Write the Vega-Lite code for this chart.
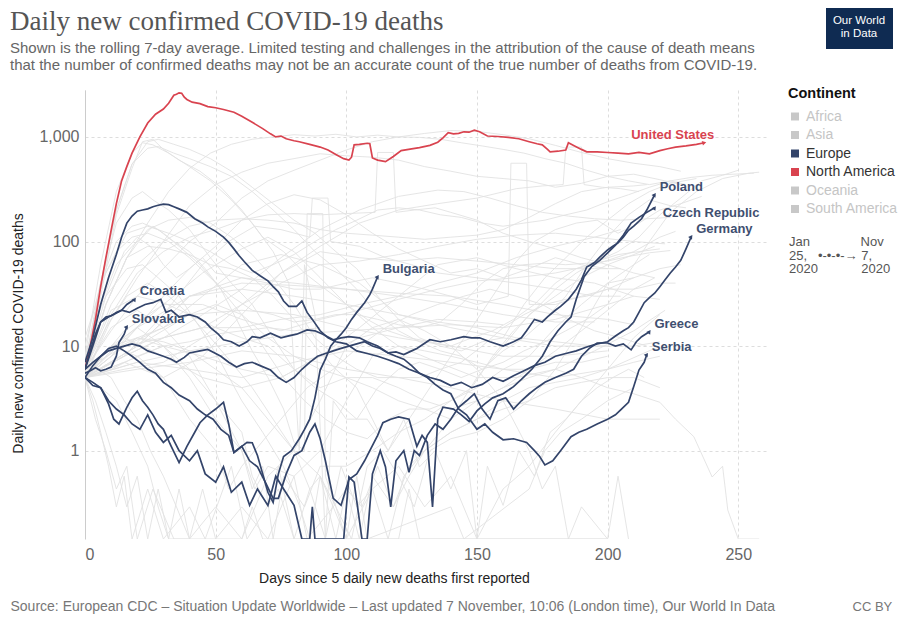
{
"$schema": "https://vega.github.io/schema/vega-lite/v6.json",
"width": 682, "height": 449,
"autosize": {"type": "none"},
"padding": {"left": 85, "top": 90, "right": 131, "bottom": 79},
"background": "white",
"title": {
  "text": "Daily new confirmed COVID-19 deaths",
  "subtitle": ["Shown is the rolling 7-day average. Limited testing and challenges in the attribution of the cause of death means", "that the number of confirmed deaths may not be an accurate count of the true number of deaths from COVID-19."],
  "anchor": "start", "frame": "bounds",
  "font": "Liberation Serif", "fontSize": 27, "fontWeight": "normal", "color": "#555",
  "subtitleFont": "Liberation Sans", "subtitleFontSize": 15, "subtitleColor": "#666", "subtitlePadding": 5, "subtitleLineHeight": 17,
  "offset": 13, "dy": 79
},
"config": {"view": {"stroke": null}, "font": "Liberation Sans"},
"datasets": {
"grey": [
{"country":"Brazil","day":0,"deaths":5},{"country":"Brazil","day":8,"deaths":25},{"country":"Brazil","day":16,"deaths":70},{"country":"Brazil","day":24,"deaths":150},{"country":"Brazil","day":32,"deaths":300},{"country":"Brazil","day":40,"deaths":500},{"country":"Brazil","day":48,"deaths":700},{"country":"Brazil","day":56,"deaths":850},{"country":"Brazil","day":64,"deaths":950},{"country":"Brazil","day":72,"deaths":1000},{"country":"Brazil","day":80,"deaths":1050},{"country":"Brazil","day":88,"deaths":1020},{"country":"Brazil","day":96,"deaths":1060},{"country":"Brazil","day":104,"deaths":1000},{"country":"Brazil","day":112,"deaths":1040},{"country":"Brazil","day":120,"deaths":1000},{"country":"Brazil","day":128,"deaths":990},{"country":"Brazil","day":136,"deaths":950},{"country":"Brazil","day":144,"deaths":880},{"country":"Brazil","day":152,"deaths":820},{"country":"Brazil","day":160,"deaths":760},{"country":"Brazil","day":168,"deaths":700},{"country":"Brazil","day":176,"deaths":620},{"country":"Brazil","day":184,"deaths":560},{"country":"Brazil","day":192,"deaths":480},{"country":"Brazil","day":200,"deaths":420},{"country":"Brazil","day":208,"deaths":380},{"country":"Brazil","day":216,"deaths":350},{"country":"Brazil","day":224,"deaths":380},{"country":"Brazil","day":230,"deaths":350},
{"country":"India","day":0,"deaths":6},{"country":"India","day":10,"deaths":14},{"country":"India","day":20,"deaths":30},{"country":"India","day":30,"deaths":55},{"country":"India","day":40,"deaths":100},{"country":"India","day":50,"deaths":150},{"country":"India","day":60,"deaths":260},{"country":"India","day":70,"deaths":380},{"country":"India","day":80,"deaths":480},{"country":"India","day":90,"deaths":600},{"country":"India","day":100,"deaths":750},{"country":"India","day":110,"deaths":900},{"country":"India","day":120,"deaths":1000},{"country":"India","day":130,"deaths":1080},{"country":"India","day":140,"deaths":1150},{"country":"India","day":150,"deaths":1130},{"country":"India","day":160,"deaths":1050},{"country":"India","day":170,"deaths":960},{"country":"India","day":180,"deaths":830},{"country":"India","day":190,"deaths":710},{"country":"India","day":200,"deaths":620},{"country":"India","day":210,"deaths":560},{"country":"India","day":220,"deaths":520},{"country":"India","day":228,"deaths":470},
{"country":"Mexico","day":0,"deaths":5},{"country":"Mexico","day":10,"deaths":18},{"country":"Mexico","day":20,"deaths":45},{"country":"Mexico","day":30,"deaths":100},{"country":"Mexico","day":40,"deaths":220},{"country":"Mexico","day":50,"deaths":350},{"country":"Mexico","day":60,"deaths":460},{"country":"Mexico","day":70,"deaths":560},{"country":"Mexico","day":80,"deaths":620},{"country":"Mexico","day":90,"deaths":690},{"country":"Mexico","day":100,"deaths":660},{"country":"Mexico","day":110,"deaths":640},{"country":"Mexico","day":120,"deaths":600},{"country":"Mexico","day":130,"deaths":520},{"country":"Mexico","day":140,"deaths":470},{"country":"Mexico","day":150,"deaths":420},{"country":"Mexico","day":160,"deaths":400},{"country":"Mexico","day":170,"deaths":380},{"country":"Mexico","day":180,"deaths":330},{"country":"Mexico","day":190,"deaths":360},{"country":"Mexico","day":200,"deaths":420},{"country":"Mexico","day":210,"deaths":440},{"country":"Mexico","day":220,"deaths":390},{"country":"Mexico","day":228,"deaths":350},
{"country":"United Kingdom","day":0,"deaths":7},{"country":"United Kingdom","day":6,"deaths":40},{"country":"United Kingdom","day":12,"deaths":200},{"country":"United Kingdom","day":18,"deaths":550},{"country":"United Kingdom","day":24,"deaths":900},{"country":"United Kingdom","day":28,"deaths":950},{"country":"United Kingdom","day":34,"deaths":850},{"country":"United Kingdom","day":40,"deaths":760},{"country":"United Kingdom","day":48,"deaths":620},{"country":"United Kingdom","day":56,"deaths":470},{"country":"United Kingdom","day":64,"deaths":330},{"country":"United Kingdom","day":72,"deaths":230},{"country":"United Kingdom","day":80,"deaths":160},{"country":"United Kingdom","day":88,"deaths":120},{"country":"United Kingdom","day":96,"deaths":80},{"country":"United Kingdom","day":104,"deaths":55},{"country":"United Kingdom","day":112,"deaths":30},{"country":"United Kingdom","day":120,"deaths":18},{"country":"United Kingdom","day":128,"deaths":12},{"country":"United Kingdom","day":136,"deaths":10},{"country":"United Kingdom","day":144,"deaths":9},{"country":"United Kingdom","day":152,"deaths":11},{"country":"United Kingdom","day":160,"deaths":12},{"country":"United Kingdom","day":168,"deaths":25},{"country":"United Kingdom","day":176,"deaths":45},{"country":"United Kingdom","day":184,"deaths":70},{"country":"United Kingdom","day":192,"deaths":110},{"country":"United Kingdom","day":200,"deaths":160},{"country":"United Kingdom","day":208,"deaths":230},{"country":"United Kingdom","day":216,"deaths":300},{"country":"United Kingdom","day":224,"deaths":360},{"country":"United Kingdom","day":234,"deaths":400},
{"country":"Italy","day":0,"deaths":6},{"country":"Italy","day":6,"deaths":40},{"country":"Italy","day":12,"deaths":200},{"country":"Italy","day":18,"deaths":550},{"country":"Italy","day":24,"deaths":780},{"country":"Italy","day":28,"deaths":810},{"country":"Italy","day":34,"deaths":700},{"country":"Italy","day":40,"deaths":620},{"country":"Italy","day":48,"deaths":520},{"country":"Italy","day":56,"deaths":420},{"country":"Italy","day":64,"deaths":300},{"country":"Italy","day":72,"deaths":200},{"country":"Italy","day":80,"deaths":130},{"country":"Italy","day":88,"deaths":80},{"country":"Italy","day":96,"deaths":55},{"country":"Italy","day":104,"deaths":35},{"country":"Italy","day":112,"deaths":20},{"country":"Italy","day":120,"deaths":14},{"country":"Italy","day":128,"deaths":11},{"country":"Italy","day":136,"deaths":9},{"country":"Italy","day":144,"deaths":8},{"country":"Italy","day":152,"deaths":6},{"country":"Italy","day":160,"deaths":7},{"country":"Italy","day":168,"deaths":9},{"country":"Italy","day":176,"deaths":11},{"country":"Italy","day":184,"deaths":14},{"country":"Italy","day":192,"deaths":18},{"country":"Italy","day":200,"deaths":25},{"country":"Italy","day":208,"deaths":50},{"country":"Italy","day":216,"deaths":100},{"country":"Italy","day":224,"deaths":190},{"country":"Italy","day":234,"deaths":300},{"country":"Italy","day":244,"deaths":400},{"country":"Italy","day":254,"deaths":450},{"country":"Italy","day":258,"deaths":460},
{"country":"Spain","day":0,"deaths":8},{"country":"Spain","day":6,"deaths":60},{"country":"Spain","day":12,"deaths":300},{"country":"Spain","day":18,"deaths":700},{"country":"Spain","day":22,"deaths":880},{"country":"Spain","day":26,"deaths":840},{"country":"Spain","day":32,"deaths":700},{"country":"Spain","day":40,"deaths":520},{"country":"Spain","day":48,"deaths":380},{"country":"Spain","day":56,"deaths":250},{"country":"Spain","day":64,"deaths":150},{"country":"Spain","day":72,"deaths":80},{"country":"Spain","day":78,"deaths":40},{"country":"Spain","day":82,"deaths":1},{"country":"Spain","day":84,"deaths":60},{"country":"Spain","day":88,"deaths":20},{"country":"Spain","day":92,"deaths":0.143},{"country":"Spain","day":95,"deaths":3},{"country":"Spain","day":100,"deaths":2},{"country":"Spain","day":108,"deaths":2},{"country":"Spain","day":116,"deaths":1},{"country":"Spain","day":124,"deaths":2},{"country":"Spain","day":132,"deaths":4},{"country":"Spain","day":140,"deaths":8},{"country":"Spain","day":148,"deaths":15},{"country":"Spain","day":156,"deaths":30},{"country":"Spain","day":164,"deaths":60},{"country":"Spain","day":172,"deaths":100},{"country":"Spain","day":180,"deaths":130},{"country":"Spain","day":188,"deaths":150},{"country":"Spain","day":196,"deaths":160},{"country":"Spain","day":204,"deaths":120},{"country":"Spain","day":212,"deaths":150},{"country":"Spain","day":220,"deaths":200},{"country":"Spain","day":228,"deaths":230},{"country":"Spain","day":236,"deaths":270},
{"country":"France","day":0,"deaths":6},{"country":"France","day":6,"deaths":30},{"country":"France","day":12,"deaths":180},{"country":"France","day":18,"deaths":500},{"country":"France","day":22,"deaths":900},{"country":"France","day":26,"deaths":950},{"country":"France","day":30,"deaths":760},{"country":"France","day":36,"deaths":600},{"country":"France","day":44,"deaths":470},{"country":"France","day":52,"deaths":330},{"country":"France","day":60,"deaths":200},{"country":"France","day":68,"deaths":110},{"country":"France","day":76,"deaths":80},{"country":"France","day":84,"deaths":50},{"country":"France","day":92,"deaths":35},{"country":"France","day":100,"deaths":25},{"country":"France","day":108,"deaths":18},{"country":"France","day":116,"deaths":14},{"country":"France","day":124,"deaths":12},{"country":"France","day":132,"deaths":11},{"country":"France","day":140,"deaths":10},{"country":"France","day":148,"deaths":12},{"country":"France","day":156,"deaths":14},{"country":"France","day":164,"deaths":18},{"country":"France","day":172,"deaths":25},{"country":"France","day":180,"deaths":40},{"country":"France","day":188,"deaths":55},{"country":"France","day":196,"deaths":65},{"country":"France","day":204,"deaths":80},{"country":"France","day":212,"deaths":110},{"country":"France","day":220,"deaths":180},{"country":"France","day":228,"deaths":260},{"country":"France","day":236,"deaths":380},{"country":"France","day":244,"deaths":430},{"country":"France","day":250,"deaths":480},
{"country":"Iran","day":0,"deaths":12},{"country":"Iran","day":8,"deaths":50},{"country":"Iran","day":16,"deaths":120},{"country":"Iran","day":24,"deaths":140},{"country":"Iran","day":32,"deaths":120},{"country":"Iran","day":40,"deaths":100},{"country":"Iran","day":48,"deaths":80},{"country":"Iran","day":56,"deaths":60},{"country":"Iran","day":64,"deaths":50},{"country":"Iran","day":72,"deaths":60},{"country":"Iran","day":80,"deaths":75},{"country":"Iran","day":88,"deaths":100},{"country":"Iran","day":96,"deaths":130},{"country":"Iran","day":104,"deaths":160},{"country":"Iran","day":112,"deaths":200},{"country":"Iran","day":120,"deaths":210},{"country":"Iran","day":128,"deaths":200},{"country":"Iran","day":136,"deaths":180},{"country":"Iran","day":144,"deaths":170},{"country":"Iran","day":152,"deaths":150},{"country":"Iran","day":160,"deaths":140},{"country":"Iran","day":168,"deaths":150},{"country":"Iran","day":176,"deaths":160},{"country":"Iran","day":184,"deaths":180},{"country":"Iran","day":192,"deaths":200},{"country":"Iran","day":200,"deaths":240},{"country":"Iran","day":208,"deaths":280},{"country":"Iran","day":216,"deaths":330},{"country":"Iran","day":224,"deaths":380},{"country":"Iran","day":232,"deaths":410},{"country":"Iran","day":240,"deaths":430},{"country":"Iran","day":248,"deaths":440},{"country":"Iran","day":256,"deaths":450},
{"country":"Peru","day":0,"deaths":5},{"country":"Peru","day":10,"deaths":20},{"country":"Peru","day":20,"deaths":50},{"country":"Peru","day":30,"deaths":80},{"country":"Peru","day":40,"deaths":110},{"country":"Peru","day":50,"deaths":130},{"country":"Peru","day":60,"deaths":160},{"country":"Peru","day":70,"deaths":180},{"country":"Peru","day":80,"deaths":185},{"country":"Peru","day":90,"deaths":180},{"country":"Peru","day":100,"deaths":185},{"country":"Peru","day":111,"deaths":190},{"country":"Peru","day":112,"deaths":710},{"country":"Peru","day":118,"deaths":710},{"country":"Peru","day":119,"deaths":190},{"country":"Peru","day":126,"deaths":200},{"country":"Peru","day":134,"deaths":210},{"country":"Peru","day":140,"deaths":190},{"country":"Peru","day":150,"deaths":160},{"country":"Peru","day":160,"deaths":120},{"country":"Peru","day":170,"deaths":100},{"country":"Peru","day":180,"deaths":85},{"country":"Peru","day":190,"deaths":70},{"country":"Peru","day":200,"deaths":60},{"country":"Peru","day":210,"deaths":50},{"country":"Peru","day":218,"deaths":45},
{"country":"Colombia","day":0,"deaths":5},{"country":"Colombia","day":15,"deaths":8},{"country":"Colombia","day":30,"deaths":12},{"country":"Colombia","day":45,"deaths":20},{"country":"Colombia","day":60,"deaths":35},{"country":"Colombia","day":75,"deaths":70},{"country":"Colombia","day":90,"deaths":130},{"country":"Colombia","day":105,"deaths":200},{"country":"Colombia","day":120,"deaths":270},{"country":"Colombia","day":135,"deaths":310},{"country":"Colombia","day":145,"deaths":300},{"country":"Colombia","day":155,"deaths":260},{"country":"Colombia","day":165,"deaths":220},{"country":"Colombia","day":175,"deaths":190},{"country":"Colombia","day":185,"deaths":175},{"country":"Colombia","day":195,"deaths":165},{"country":"Colombia","day":205,"deaths":160},{"country":"Colombia","day":215,"deaths":165},{"country":"Colombia","day":224,"deaths":170},
{"country":"Russia","day":0,"deaths":6},{"country":"Russia","day":10,"deaths":25},{"country":"Russia","day":20,"deaths":60},{"country":"Russia","day":30,"deaths":100},{"country":"Russia","day":40,"deaths":140},{"country":"Russia","day":50,"deaths":160},{"country":"Russia","day":60,"deaths":165},{"country":"Russia","day":70,"deaths":160},{"country":"Russia","day":80,"deaths":150},{"country":"Russia","day":90,"deaths":130},{"country":"Russia","day":100,"deaths":120},{"country":"Russia","day":110,"deaths":115},{"country":"Russia","day":120,"deaths":110},{"country":"Russia","day":130,"deaths":105},{"country":"Russia","day":140,"deaths":110},{"country":"Russia","day":150,"deaths":115},{"country":"Russia","day":160,"deaths":130},{"country":"Russia","day":170,"deaths":170},{"country":"Russia","day":180,"deaths":230},{"country":"Russia","day":190,"deaths":300},{"country":"Russia","day":200,"deaths":330},{"country":"Russia","day":210,"deaths":340},{"country":"Russia","day":215,"deaths":350},
{"country":"Argentina","day":0,"deaths":5},{"country":"Argentina","day":15,"deaths":6},{"country":"Argentina","day":30,"deaths":7},{"country":"Argentina","day":45,"deaths":12},{"country":"Argentina","day":60,"deaths":25},{"country":"Argentina","day":75,"deaths":50},{"country":"Argentina","day":90,"deaths":90},{"country":"Argentina","day":105,"deaths":150},{"country":"Argentina","day":120,"deaths":200},{"country":"Argentina","day":135,"deaths":230},{"country":"Argentina","day":150,"deaths":260},{"country":"Argentina","day":165,"deaths":320},{"country":"Argentina","day":175,"deaths":340},{"country":"Argentina","day":183,"deaths":350},{"country":"Argentina","day":184,"deaths":800},{"country":"Argentina","day":190,"deaths":800},{"country":"Argentina","day":191,"deaths":350},{"country":"Argentina","day":198,"deaths":330},{"country":"Argentina","day":205,"deaths":320},{"country":"Argentina","day":212,"deaths":300},
{"country":"South Africa","day":0,"deaths":5},{"country":"South Africa","day":10,"deaths":8},{"country":"South Africa","day":20,"deaths":15},{"country":"South Africa","day":30,"deaths":30},{"country":"South Africa","day":40,"deaths":55},{"country":"South Africa","day":50,"deaths":90},{"country":"South Africa","day":60,"deaths":160},{"country":"South Africa","day":70,"deaths":230},{"country":"South Africa","day":80,"deaths":280},{"country":"South Africa","day":90,"deaths":250},{"country":"South Africa","day":100,"deaths":180},{"country":"South Africa","day":110,"deaths":120},{"country":"South Africa","day":120,"deaths":85},{"country":"South Africa","day":130,"deaths":65},{"country":"South Africa","day":140,"deaths":50},{"country":"South Africa","day":150,"deaths":55},{"country":"South Africa","day":160,"deaths":45},{"country":"South Africa","day":170,"deaths":55},{"country":"South Africa","day":180,"deaths":70},{"country":"South Africa","day":190,"deaths":60},{"country":"South Africa","day":200,"deaths":55},
{"country":"Indonesia","day":0,"deaths":6},{"country":"Indonesia","day":15,"deaths":10},{"country":"Indonesia","day":30,"deaths":12},{"country":"Indonesia","day":45,"deaths":15},{"country":"Indonesia","day":60,"deaths":25},{"country":"Indonesia","day":75,"deaths":40},{"country":"Indonesia","day":90,"deaths":60},{"country":"Indonesia","day":105,"deaths":65},{"country":"Indonesia","day":120,"deaths":75},{"country":"Indonesia","day":135,"deaths":90},{"country":"Indonesia","day":150,"deaths":105},{"country":"Indonesia","day":165,"deaths":115},{"country":"Indonesia","day":180,"deaths":120},{"country":"Indonesia","day":195,"deaths":110},{"country":"Indonesia","day":210,"deaths":100},{"country":"Indonesia","day":222,"deaths":95},
{"country":"Belgium","day":0,"deaths":6},{"country":"Belgium","day":6,"deaths":40},{"country":"Belgium","day":12,"deaths":150},{"country":"Belgium","day":18,"deaths":260},{"country":"Belgium","day":22,"deaths":300},{"country":"Belgium","day":26,"deaths":250},{"country":"Belgium","day":32,"deaths":200},{"country":"Belgium","day":40,"deaths":130},{"country":"Belgium","day":48,"deaths":70},{"country":"Belgium","day":56,"deaths":40},{"country":"Belgium","day":64,"deaths":25},{"country":"Belgium","day":72,"deaths":12},{"country":"Belgium","day":80,"deaths":6},{"country":"Belgium","day":88,"deaths":4},{"country":"Belgium","day":96,"deaths":3},{"country":"Belgium","day":104,"deaths":2},{"country":"Belgium","day":112,"deaths":4},{"country":"Belgium","day":120,"deaths":6},{"country":"Belgium","day":128,"deaths":7},{"country":"Belgium","day":136,"deaths":6},{"country":"Belgium","day":144,"deaths":5},{"country":"Belgium","day":152,"deaths":6},{"country":"Belgium","day":160,"deaths":9},{"country":"Belgium","day":168,"deaths":12},{"country":"Belgium","day":176,"deaths":18},{"country":"Belgium","day":184,"deaths":30},{"country":"Belgium","day":192,"deaths":60},{"country":"Belgium","day":200,"deaths":110},{"country":"Belgium","day":208,"deaths":180},{"country":"Belgium","day":216,"deaths":250},{"country":"Belgium","day":224,"deaths":220},{"country":"Belgium","day":230,"deaths":210},
{"country":"Netherlands","day":0,"deaths":6},{"country":"Netherlands","day":6,"deaths":40},{"country":"Netherlands","day":12,"deaths":100},{"country":"Netherlands","day":18,"deaths":140},{"country":"Netherlands","day":22,"deaths":150},{"country":"Netherlands","day":28,"deaths":130},{"country":"Netherlands","day":36,"deaths":90},{"country":"Netherlands","day":44,"deaths":60},{"country":"Netherlands","day":52,"deaths":35},{"country":"Netherlands","day":60,"deaths":20},{"country":"Netherlands","day":68,"deaths":10},{"country":"Netherlands","day":76,"deaths":5},{"country":"Netherlands","day":84,"deaths":3},{"country":"Netherlands","day":92,"deaths":2},{"country":"Netherlands","day":100,"deaths":1.5},{"country":"Netherlands","day":108,"deaths":1.3},{"country":"Netherlands","day":116,"deaths":2},{"country":"Netherlands","day":124,"deaths":2.5},{"country":"Netherlands","day":132,"deaths":2.5},{"country":"Netherlands","day":140,"deaths":3},{"country":"Netherlands","day":148,"deaths":4},{"country":"Netherlands","day":156,"deaths":8},{"country":"Netherlands","day":164,"deaths":14},{"country":"Netherlands","day":172,"deaths":22},{"country":"Netherlands","day":180,"deaths":35},{"country":"Netherlands","day":188,"deaths":50},{"country":"Netherlands","day":196,"deaths":65},{"country":"Netherlands","day":204,"deaths":75},{"country":"Netherlands","day":212,"deaths":80},{"country":"Netherlands","day":220,"deaths":85},
{"country":"Turkey","day":0,"deaths":10},{"country":"Turkey","day":6,"deaths":40},{"country":"Turkey","day":12,"deaths":80},{"country":"Turkey","day":18,"deaths":110},{"country":"Turkey","day":24,"deaths":120},{"country":"Turkey","day":32,"deaths":100},{"country":"Turkey","day":40,"deaths":70},{"country":"Turkey","day":48,"deaths":45},{"country":"Turkey","day":56,"deaths":30},{"country":"Turkey","day":64,"deaths":22},{"country":"Turkey","day":72,"deaths":20},{"country":"Turkey","day":80,"deaths":17},{"country":"Turkey","day":88,"deaths":18},{"country":"Turkey","day":96,"deaths":20},{"country":"Turkey","day":104,"deaths":20},{"country":"Turkey","day":112,"deaths":18},{"country":"Turkey","day":120,"deaths":16},{"country":"Turkey","day":128,"deaths":15},{"country":"Turkey","day":136,"deaths":17},{"country":"Turkey","day":144,"deaths":25},{"country":"Turkey","day":152,"deaths":40},{"country":"Turkey","day":160,"deaths":55},{"country":"Turkey","day":168,"deaths":60},{"country":"Turkey","day":176,"deaths":62},{"country":"Turkey","day":184,"deaths":60},{"country":"Turkey","day":192,"deaths":62},{"country":"Turkey","day":200,"deaths":65},{"country":"Turkey","day":208,"deaths":72},{"country":"Turkey","day":216,"deaths":78},{"country":"Turkey","day":224,"deaths":82},
{"country":"Canada","day":0,"deaths":6},{"country":"Canada","day":8,"deaths":25},{"country":"Canada","day":16,"deaths":70},{"country":"Canada","day":24,"deaths":130},{"country":"Canada","day":32,"deaths":160},{"country":"Canada","day":40,"deaths":170},{"country":"Canada","day":48,"deaths":150},{"country":"Canada","day":56,"deaths":110},{"country":"Canada","day":64,"deaths":75},{"country":"Canada","day":72,"deaths":45},{"country":"Canada","day":80,"deaths":25},{"country":"Canada","day":88,"deaths":12},{"country":"Canada","day":96,"deaths":8},{"country":"Canada","day":104,"deaths":6},{"country":"Canada","day":112,"deaths":5},{"country":"Canada","day":120,"deaths":5},{"country":"Canada","day":128,"deaths":5},{"country":"Canada","day":136,"deaths":6},{"country":"Canada","day":144,"deaths":7},{"country":"Canada","day":152,"deaths":10},{"country":"Canada","day":160,"deaths":15},{"country":"Canada","day":168,"deaths":20},{"country":"Canada","day":176,"deaths":25},{"country":"Canada","day":184,"deaths":28},{"country":"Canada","day":192,"deaths":30},{"country":"Canada","day":200,"deaths":35},{"country":"Canada","day":210,"deaths":45},{"country":"Canada","day":220,"deaths":55},{"country":"Canada","day":228,"deaths":60},
{"country":"Sweden","day":0,"deaths":6},{"country":"Sweden","day":8,"deaths":25},{"country":"Sweden","day":16,"deaths":70},{"country":"Sweden","day":24,"deaths":90},{"country":"Sweden","day":32,"deaths":85},{"country":"Sweden","day":40,"deaths":75},{"country":"Sweden","day":48,"deaths":60},{"country":"Sweden","day":56,"deaths":55},{"country":"Sweden","day":64,"deaths":45},{"country":"Sweden","day":72,"deaths":30},{"country":"Sweden","day":80,"deaths":18},{"country":"Sweden","day":88,"deaths":10},{"country":"Sweden","day":96,"deaths":6},{"country":"Sweden","day":104,"deaths":4},{"country":"Sweden","day":110,"deaths":2},{"country":"Sweden","day":116,"deaths":1},{"country":"Sweden","day":122,"deaths":2},{"country":"Sweden","day":128,"deaths":0.7},{"country":"Sweden","day":134,"deaths":1},{"country":"Sweden","day":140,"deaths":0.43},{"country":"Sweden","day":146,"deaths":1},{"country":"Sweden","day":150,"deaths":0.143},{"country":"Sweden","day":154,"deaths":0.71},{"country":"Sweden","day":160,"deaths":0.3},{"country":"Sweden","day":166,"deaths":1},{"country":"Sweden","day":172,"deaths":0.57},{"country":"Sweden","day":178,"deaths":1.5},{"country":"Sweden","day":184,"deaths":2},{"country":"Sweden","day":190,"deaths":3},{"country":"Sweden","day":196,"deaths":4},{"country":"Sweden","day":202,"deaths":5},{"country":"Sweden","day":208,"deaths":6},{"country":"Sweden","day":214,"deaths":5},
{"country":"Philippines","day":0,"deaths":6},{"country":"Philippines","day":15,"deaths":12},{"country":"Philippines","day":30,"deaths":8},{"country":"Philippines","day":45,"deaths":5},{"country":"Philippines","day":60,"deaths":4},{"country":"Philippines","day":75,"deaths":5},{"country":"Philippines","day":90,"deaths":8},{"country":"Philippines","day":105,"deaths":15},{"country":"Philippines","day":120,"deaths":30},{"country":"Philippines","day":135,"deaths":60},{"country":"Philippines","day":150,"deaths":70},{"country":"Philippines","day":165,"deaths":55},{"country":"Philippines","day":180,"deaths":45},{"country":"Philippines","day":195,"deaths":40},{"country":"Philippines","day":210,"deaths":30},{"country":"Philippines","day":220,"deaths":28},
{"country":"Pakistan","day":0,"deaths":5},{"country":"Pakistan","day":15,"deaths":12},{"country":"Pakistan","day":30,"deaths":25},{"country":"Pakistan","day":45,"deaths":50},{"country":"Pakistan","day":60,"deaths":85},{"country":"Pakistan","day":70,"deaths":110},{"country":"Pakistan","day":80,"deaths":80},{"country":"Pakistan","day":90,"deaths":45},{"country":"Pakistan","day":100,"deaths":25},{"country":"Pakistan","day":110,"deaths":15},{"country":"Pakistan","day":120,"deaths":10},{"country":"Pakistan","day":135,"deaths":7},{"country":"Pakistan","day":150,"deaths":5},{"country":"Pakistan","day":165,"deaths":5},{"country":"Pakistan","day":180,"deaths":6},{"country":"Pakistan","day":195,"deaths":9},{"country":"Pakistan","day":210,"deaths":14},{"country":"Pakistan","day":222,"deaths":22},
{"country":"Egypt","day":0,"deaths":5},{"country":"Egypt","day":15,"deaths":10},{"country":"Egypt","day":30,"deaths":15},{"country":"Egypt","day":45,"deaths":30},{"country":"Egypt","day":60,"deaths":60},{"country":"Egypt","day":75,"deaths":75},{"country":"Egypt","day":90,"deaths":60},{"country":"Egypt","day":105,"deaths":40},{"country":"Egypt","day":120,"deaths":20},{"country":"Egypt","day":135,"deaths":17},{"country":"Egypt","day":150,"deaths":15},{"country":"Egypt","day":165,"deaths":12},{"country":"Egypt","day":180,"deaths":11},{"country":"Egypt","day":195,"deaths":10},{"country":"Egypt","day":210,"deaths":10},{"country":"Egypt","day":220,"deaths":11},
{"country":"Ireland","day":0,"deaths":6},{"country":"Ireland","day":8,"deaths":15},{"country":"Ireland","day":16,"deaths":30},{"country":"Ireland","day":24,"deaths":40},{"country":"Ireland","day":32,"deaths":30},{"country":"Ireland","day":40,"deaths":20},{"country":"Ireland","day":48,"deaths":12},{"country":"Ireland","day":56,"deaths":7},{"country":"Ireland","day":64,"deaths":4},{"country":"Ireland","day":72,"deaths":2},{"country":"Ireland","day":80,"deaths":1},{"country":"Ireland","day":86,"deaths":0.43},{"country":"Ireland","day":90,"deaths":0.57},{"country":"Ireland","day":96,"deaths":0.143},{"country":"Ireland","day":100,"deaths":0.43},{"country":"Ireland","day":106,"deaths":0.29},{"country":"Ireland","day":112,"deaths":0.71},{"country":"Ireland","day":118,"deaths":0.29},{"country":"Ireland","day":124,"deaths":0.57},{"country":"Ireland","day":130,"deaths":1},{"country":"Ireland","day":140,"deaths":1.5},{"country":"Ireland","day":150,"deaths":2},{"country":"Ireland","day":160,"deaths":2.5},{"country":"Ireland","day":170,"deaths":3},{"country":"Ireland","day":180,"deaths":4},{"country":"Ireland","day":190,"deaths":4.5},{"country":"Ireland","day":200,"deaths":5},{"country":"Ireland","day":210,"deaths":5},{"country":"Ireland","day":220,"deaths":4},
{"country":"Switzerland","day":0,"deaths":6},{"country":"Switzerland","day":8,"deaths":30},{"country":"Switzerland","day":16,"deaths":55},{"country":"Switzerland","day":22,"deaths":60},{"country":"Switzerland","day":28,"deaths":45},{"country":"Switzerland","day":36,"deaths":30},{"country":"Switzerland","day":44,"deaths":15},{"country":"Switzerland","day":52,"deaths":7},{"country":"Switzerland","day":60,"deaths":3},{"country":"Switzerland","day":68,"deaths":1.5},{"country":"Switzerland","day":76,"deaths":0.7},{"country":"Switzerland","day":82,"deaths":0.3},{"country":"Switzerland","day":86,"deaths":0.143},{"country":"Switzerland","day":90,"deaths":0.57},{"country":"Switzerland","day":96,"deaths":0.29},{"country":"Switzerland","day":102,"deaths":0.143},{"country":"Switzerland","day":108,"deaths":0.71},{"country":"Switzerland","day":114,"deaths":1},{"country":"Switzerland","day":120,"deaths":0.57},{"country":"Switzerland","day":126,"deaths":0.29},{"country":"Switzerland","day":132,"deaths":1},{"country":"Switzerland","day":140,"deaths":1.3},{"country":"Switzerland","day":150,"deaths":1.5},{"country":"Switzerland","day":160,"deaths":2},{"country":"Switzerland","day":170,"deaths":3},{"country":"Switzerland","day":180,"deaths":6},{"country":"Switzerland","day":190,"deaths":15},{"country":"Switzerland","day":200,"deaths":40},{"country":"Switzerland","day":210,"deaths":60},{"country":"Switzerland","day":216,"deaths":75},
{"country":"Portugal","day":0,"deaths":6},{"country":"Portugal","day":10,"deaths":22},{"country":"Portugal","day":20,"deaths":30},{"country":"Portugal","day":30,"deaths":26},{"country":"Portugal","day":40,"deaths":20},{"country":"Portugal","day":50,"deaths":15},{"country":"Portugal","day":60,"deaths":12},{"country":"Portugal","day":70,"deaths":10},{"country":"Portugal","day":80,"deaths":6},{"country":"Portugal","day":90,"deaths":4},{"country":"Portugal","day":100,"deaths":5},{"country":"Portugal","day":110,"deaths":5},{"country":"Portugal","day":120,"deaths":4},{"country":"Portugal","day":130,"deaths":3},{"country":"Portugal","day":140,"deaths":2.5},{"country":"Portugal","day":150,"deaths":3},{"country":"Portugal","day":160,"deaths":4},{"country":"Portugal","day":170,"deaths":6},{"country":"Portugal","day":180,"deaths":9},{"country":"Portugal","day":190,"deaths":14},{"country":"Portugal","day":200,"deaths":22},{"country":"Portugal","day":210,"deaths":35},{"country":"Portugal","day":218,"deaths":45},
{"country":"Romania","day":0,"deaths":5},{"country":"Romania","day":15,"deaths":14},{"country":"Romania","day":30,"deaths":25},{"country":"Romania","day":45,"deaths":25},{"country":"Romania","day":60,"deaths":18},{"country":"Romania","day":75,"deaths":14},{"country":"Romania","day":90,"deaths":18},{"country":"Romania","day":105,"deaths":22},{"country":"Romania","day":120,"deaths":28},{"country":"Romania","day":135,"deaths":35},{"country":"Romania","day":150,"deaths":42},{"country":"Romania","day":165,"deaths":45},{"country":"Romania","day":180,"deaths":50},{"country":"Romania","day":195,"deaths":60},{"country":"Romania","day":210,"deaths":80},{"country":"Romania","day":220,"deaths":110},{"country":"Romania","day":226,"deaths":125},
{"country":"Hungary","day":0,"deaths":5},{"country":"Hungary","day":10,"deaths":9},{"country":"Hungary","day":20,"deaths":12},{"country":"Hungary","day":30,"deaths":11},{"country":"Hungary","day":40,"deaths":9},{"country":"Hungary","day":50,"deaths":6},{"country":"Hungary","day":60,"deaths":4},{"country":"Hungary","day":70,"deaths":2},{"country":"Hungary","day":80,"deaths":1},{"country":"Hungary","day":90,"deaths":0.57},{"country":"Hungary","day":95,"deaths":0.29},{"country":"Hungary","day":100,"deaths":0.43},{"country":"Hungary","day":105,"deaths":0.143},{"country":"Hungary","day":110,"deaths":0.57},{"country":"Hungary","day":118,"deaths":0.29},{"country":"Hungary","day":124,"deaths":0.71},{"country":"Hungary","day":130,"deaths":1},{"country":"Hungary","day":140,"deaths":2},{"country":"Hungary","day":150,"deaths":5},{"country":"Hungary","day":160,"deaths":10},{"country":"Hungary","day":170,"deaths":20},{"country":"Hungary","day":180,"deaths":30},{"country":"Hungary","day":190,"deaths":45},{"country":"Hungary","day":200,"deaths":60},{"country":"Hungary","day":210,"deaths":75},{"country":"Hungary","day":218,"deaths":90},
{"country":"Ukraine","day":0,"deaths":5},{"country":"Ukraine","day":15,"deaths":8},{"country":"Ukraine","day":30,"deaths":12},{"country":"Ukraine","day":45,"deaths":15},{"country":"Ukraine","day":60,"deaths":15},{"country":"Ukraine","day":75,"deaths":18},{"country":"Ukraine","day":90,"deaths":20},{"country":"Ukraine","day":105,"deaths":25},{"country":"Ukraine","day":120,"deaths":30},{"country":"Ukraine","day":135,"deaths":40},{"country":"Ukraine","day":150,"deaths":50},{"country":"Ukraine","day":165,"deaths":70},{"country":"Ukraine","day":180,"deaths":90},{"country":"Ukraine","day":195,"deaths":110},{"country":"Ukraine","day":205,"deaths":130},
{"country":"Iraq","day":0,"deaths":5},{"country":"Iraq","day":15,"deaths":7},{"country":"Iraq","day":30,"deaths":5},{"country":"Iraq","day":45,"deaths":8},{"country":"Iraq","day":60,"deaths":20},{"country":"Iraq","day":75,"deaths":50},{"country":"Iraq","day":90,"deaths":80},{"country":"Iraq","day":105,"deaths":70},{"country":"Iraq","day":120,"deaths":65},{"country":"Iraq","day":135,"deaths":70},{"country":"Iraq","day":150,"deaths":65},{"country":"Iraq","day":165,"deaths":60},{"country":"Iraq","day":180,"deaths":55},{"country":"Iraq","day":195,"deaths":55},{"country":"Iraq","day":205,"deaths":55},
{"country":"Chile","day":0,"deaths":5},{"country":"Chile","day":15,"deaths":8},{"country":"Chile","day":30,"deaths":20},{"country":"Chile","day":45,"deaths":60},{"country":"Chile","day":55,"deaths":100},{"country":"Chile","day":65,"deaths":140},{"country":"Chile","day":75,"deaths":130},{"country":"Chile","day":86,"deaths":110},{"country":"Chile","day":87,"deaths":260},{"country":"Chile","day":93,"deaths":260},{"country":"Chile","day":94,"deaths":100},{"country":"Chile","day":105,"deaths":90},{"country":"Chile","day":115,"deaths":70},{"country":"Chile","day":125,"deaths":60},{"country":"Chile","day":135,"deaths":50},{"country":"Chile","day":150,"deaths":45},{"country":"Chile","day":165,"deaths":40},{"country":"Chile","day":180,"deaths":35},{"country":"Chile","day":195,"deaths":30},{"country":"Chile","day":205,"deaths":30},
{"country":"Ecuador","day":0,"deaths":8},{"country":"Ecuador","day":5,"deaths":20},{"country":"Ecuador","day":10,"deaths":40},{"country":"Ecuador","day":15,"deaths":80},{"country":"Ecuador","day":20,"deaths":110},{"country":"Ecuador","day":25,"deaths":90},{"country":"Ecuador","day":30,"deaths":60},{"country":"Ecuador","day":35,"deaths":45},{"country":"Ecuador","day":40,"deaths":55},{"country":"Ecuador","day":45,"deaths":70},{"country":"Ecuador","day":50,"deaths":50},{"country":"Ecuador","day":60,"deaths":45},{"country":"Ecuador","day":70,"deaths":40},{"country":"Ecuador","day":80,"deaths":35},{"country":"Ecuador","day":90,"deaths":35},{"country":"Ecuador","day":100,"deaths":40},{"country":"Ecuador","day":110,"deaths":45},{"country":"Ecuador","day":120,"deaths":40},{"country":"Ecuador","day":130,"deaths":35},{"country":"Ecuador","day":140,"deaths":30},{"country":"Ecuador","day":150,"deaths":25},{"country":"Ecuador","day":162,"deaths":30},{"country":"Ecuador","day":163,"deaths":560},{"country":"Ecuador","day":169,"deaths":560},{"country":"Ecuador","day":170,"deaths":25},{"country":"Ecuador","day":180,"deaths":25},{"country":"Ecuador","day":190,"deaths":30},{"country":"Ecuador","day":200,"deaths":35},{"country":"Ecuador","day":210,"deaths":35},{"country":"Ecuador","day":220,"deaths":40},{"country":"Ecuador","day":226,"deaths":40},
{"country":"Saudi Arabia","day":0,"deaths":5},{"country":"Saudi Arabia","day":20,"deaths":10},{"country":"Saudi Arabia","day":40,"deaths":30},{"country":"Saudi Arabia","day":60,"deaths":45},{"country":"Saudi Arabia","day":80,"deaths":40},{"country":"Saudi Arabia","day":100,"deaths":35},{"country":"Saudi Arabia","day":120,"deaths":30},{"country":"Saudi Arabia","day":140,"deaths":25},{"country":"Saudi Arabia","day":160,"deaths":20},{"country":"Saudi Arabia","day":180,"deaths":17},{"country":"Saudi Arabia","day":195,"deaths":17},
{"country":"Bangladesh","day":0,"deaths":5},{"country":"Bangladesh","day":20,"deaths":10},{"country":"Bangladesh","day":40,"deaths":30},{"country":"Bangladesh","day":60,"deaths":40},{"country":"Bangladesh","day":80,"deaths":38},{"country":"Bangladesh","day":100,"deaths":35},{"country":"Bangladesh","day":120,"deaths":32},{"country":"Bangladesh","day":140,"deaths":30},{"country":"Bangladesh","day":160,"deaths":25},{"country":"Bangladesh","day":180,"deaths":20},{"country":"Bangladesh","day":200,"deaths":18},{"country":"Bangladesh","day":210,"deaths":16},
{"country":"Israel","day":0,"deaths":5},{"country":"Israel","day":10,"deaths":10},{"country":"Israel","day":20,"deaths":8},{"country":"Israel","day":30,"deaths":5},{"country":"Israel","day":40,"deaths":2},{"country":"Israel","day":50,"deaths":1},{"country":"Israel","day":55,"deaths":0.43},{"country":"Israel","day":60,"deaths":0.71},{"country":"Israel","day":65,"deaths":1},{"country":"Israel","day":75,"deaths":2},{"country":"Israel","day":85,"deaths":4},{"country":"Israel","day":95,"deaths":6},{"country":"Israel","day":105,"deaths":10},{"country":"Israel","day":115,"deaths":15},{"country":"Israel","day":125,"deaths":20},{"country":"Israel","day":135,"deaths":25},{"country":"Israel","day":145,"deaths":30},{"country":"Israel","day":155,"deaths":35},{"country":"Israel","day":165,"deaths":30},{"country":"Israel","day":175,"deaths":25},{"country":"Israel","day":185,"deaths":18},{"country":"Israel","day":195,"deaths":14},{"country":"Israel","day":205,"deaths":12},{"country":"Israel","day":215,"deaths":10},
{"country":"Japan","day":0,"deaths":5},{"country":"Japan","day":10,"deaths":10},{"country":"Japan","day":20,"deaths":15},{"country":"Japan","day":30,"deaths":10},{"country":"Japan","day":40,"deaths":5},{"country":"Japan","day":50,"deaths":2},{"country":"Japan","day":60,"deaths":1},{"country":"Japan","day":65,"deaths":0.43},{"country":"Japan","day":70,"deaths":0.71},{"country":"Japan","day":80,"deaths":0.57},{"country":"Japan","day":90,"deaths":1},{"country":"Japan","day":100,"deaths":3},{"country":"Japan","day":110,"deaths":8},{"country":"Japan","day":120,"deaths":10},{"country":"Japan","day":130,"deaths":9},{"country":"Japan","day":140,"deaths":8},{"country":"Japan","day":150,"deaths":7},{"country":"Japan","day":160,"deaths":6},{"country":"Japan","day":170,"deaths":6},{"country":"Japan","day":180,"deaths":7},{"country":"Japan","day":190,"deaths":7},{"country":"Japan","day":200,"deaths":8},
{"country":"Algeria","day":0,"deaths":5},{"country":"Algeria","day":20,"deaths":7},{"country":"Algeria","day":40,"deaths":6},{"country":"Algeria","day":60,"deaths":5},{"country":"Algeria","day":80,"deaths":7},{"country":"Algeria","day":100,"deaths":9},{"country":"Algeria","day":120,"deaths":8},{"country":"Algeria","day":140,"deaths":7},{"country":"Algeria","day":160,"deaths":6},{"country":"Algeria","day":180,"deaths":5},{"country":"Algeria","day":200,"deaths":6},{"country":"Algeria","day":220,"deaths":10},
{"country":"Austria","day":0,"deaths":6},{"country":"Austria","day":10,"deaths":15},{"country":"Austria","day":20,"deaths":22},{"country":"Austria","day":30,"deaths":15},{"country":"Austria","day":40,"deaths":8},{"country":"Austria","day":50,"deaths":3},{"country":"Austria","day":60,"deaths":1},{"country":"Austria","day":64,"deaths":0.43},{"country":"Austria","day":68,"deaths":0.71},{"country":"Austria","day":72,"deaths":0.143},{"country":"Austria","day":76,"deaths":0.57},{"country":"Austria","day":84,"deaths":0.29},{"country":"Austria","day":90,"deaths":0.71},{"country":"Austria","day":100,"deaths":0.71},{"country":"Austria","day":110,"deaths":1},{"country":"Austria","day":120,"deaths":1.5},{"country":"Austria","day":130,"deaths":2},{"country":"Austria","day":140,"deaths":3},{"country":"Austria","day":150,"deaths":4},{"country":"Austria","day":160,"deaths":6},{"country":"Austria","day":170,"deaths":8},{"country":"Austria","day":180,"deaths":15},{"country":"Austria","day":190,"deaths":25},{"country":"Austria","day":200,"deaths":40},{"country":"Austria","day":210,"deaths":45},
{"country":"Denmark","day":0,"deaths":5},{"country":"Denmark","day":10,"deaths":10},{"country":"Denmark","day":20,"deaths":12},{"country":"Denmark","day":30,"deaths":10},{"country":"Denmark","day":40,"deaths":6},{"country":"Denmark","day":50,"deaths":3},{"country":"Denmark","day":60,"deaths":1.5},{"country":"Denmark","day":64,"deaths":0.57},{"country":"Denmark","day":70,"deaths":0.29},{"country":"Denmark","day":74,"deaths":0.71},{"country":"Denmark","day":80,"deaths":0.143},{"country":"Denmark","day":86,"deaths":0.43},{"country":"Denmark","day":92,"deaths":0.143},{"country":"Denmark","day":98,"deaths":0.71},{"country":"Denmark","day":104,"deaths":0.29},{"country":"Denmark","day":110,"deaths":0.43},{"country":"Denmark","day":116,"deaths":0.143},{"country":"Denmark","day":122,"deaths":0.57},{"country":"Denmark","day":130,"deaths":1},{"country":"Denmark","day":140,"deaths":1.5},{"country":"Denmark","day":150,"deaths":2},{"country":"Denmark","day":160,"deaths":3},{"country":"Denmark","day":170,"deaths":4},{"country":"Denmark","day":180,"deaths":4.5},{"country":"Denmark","day":190,"deaths":5},{"country":"Denmark","day":200,"deaths":6},{"country":"Denmark","day":210,"deaths":7},{"country":"Denmark","day":220,"deaths":8},
{"country":"Australia","day":0,"deaths":5},{"country":"Australia","day":6,"deaths":4},{"country":"Australia","day":12,"deaths":3},{"country":"Australia","day":18,"deaths":1.5},{"country":"Australia","day":24,"deaths":0.71},{"country":"Australia","day":28,"deaths":0.29},{"country":"Australia","day":32,"deaths":0.143},{"country":"Australia","day":36,"deaths":0.43},{"country":"Australia","day":40,"deaths":0.143},{"country":"Australia","day":50,"deaths":0.29},{"country":"Australia","day":60,"deaths":0.143},{"country":"Australia","day":70,"deaths":0.57},{"country":"Australia","day":80,"deaths":1},{"country":"Australia","day":90,"deaths":3},{"country":"Australia","day":100,"deaths":10},{"country":"Australia","day":110,"deaths":15},{"country":"Australia","day":120,"deaths":18},{"country":"Australia","day":130,"deaths":14},{"country":"Australia","day":140,"deaths":10},{"country":"Australia","day":150,"deaths":6},{"country":"Australia","day":160,"deaths":3},{"country":"Australia","day":170,"deaths":1},{"country":"Australia","day":175,"deaths":0.43},{"country":"Australia","day":180,"deaths":0.71},{"country":"Australia","day":185,"deaths":0.143},{"country":"Australia","day":190,"deaths":0.29},{"country":"Australia","day":200,"deaths":0.143},
{"country":"Moldova","day":0,"deaths":5},{"country":"Moldova","day":20,"deaths":7},{"country":"Moldova","day":40,"deaths":9},{"country":"Moldova","day":60,"deaths":11},{"country":"Moldova","day":80,"deaths":13},{"country":"Moldova","day":100,"deaths":14},{"country":"Moldova","day":120,"deaths":15},{"country":"Moldova","day":140,"deaths":16},{"country":"Moldova","day":160,"deaths":15},{"country":"Moldova","day":180,"deaths":18},{"country":"Moldova","day":200,"deaths":25},{"country":"Moldova","day":210,"deaths":30},
{"country":"Kenya","day":0,"deaths":5},{"country":"Kenya","day":15,"deaths":7},{"country":"Kenya","day":30,"deaths":10},{"country":"Kenya","day":45,"deaths":8},{"country":"Kenya","day":60,"deaths":6},{"country":"Kenya","day":75,"deaths":5},{"country":"Kenya","day":90,"deaths":8},{"country":"Kenya","day":105,"deaths":12},{"country":"Kenya","day":120,"deaths":15},{"country":"Kenya","day":135,"deaths":18},{"country":"Kenya","day":150,"deaths":17},{"country":"Kenya","day":160,"deaths":16},
{"country":"Nepal","day":0,"deaths":5},{"country":"Nepal","day":10,"deaths":6},{"country":"Nepal","day":20,"deaths":8},{"country":"Nepal","day":30,"deaths":10},{"country":"Nepal","day":40,"deaths":11},{"country":"Nepal","day":50,"deaths":13},{"country":"Nepal","day":60,"deaths":14},{"country":"Nepal","day":70,"deaths":15},{"country":"Nepal","day":80,"deaths":14},{"country":"Nepal","day":90,"deaths":15},
{"country":"Guatemala","day":0,"deaths":5},{"country":"Guatemala","day":20,"deaths":15},{"country":"Guatemala","day":40,"deaths":30},{"country":"Guatemala","day":60,"deaths":35},{"country":"Guatemala","day":80,"deaths":30},{"country":"Guatemala","day":100,"deaths":25},{"country":"Guatemala","day":120,"deaths":20},{"country":"Guatemala","day":140,"deaths":15},{"country":"Guatemala","day":160,"deaths":12},{"country":"Guatemala","day":180,"deaths":10},{"country":"Guatemala","day":200,"deaths":10},
{"country":"Honduras","day":0,"deaths":5},{"country":"Honduras","day":20,"deaths":10},{"country":"Honduras","day":40,"deaths":20},{"country":"Honduras","day":60,"deaths":22},{"country":"Honduras","day":80,"deaths":20},{"country":"Honduras","day":100,"deaths":15},{"country":"Honduras","day":120,"deaths":12},{"country":"Honduras","day":140,"deaths":10},{"country":"Honduras","day":160,"deaths":8},{"country":"Honduras","day":180,"deaths":8},{"country":"Honduras","day":200,"deaths":9},
{"country":"Dominican Republic","day":0,"deaths":5},{"country":"Dominican Republic","day":20,"deaths":6},{"country":"Dominican Republic","day":40,"deaths":7},{"country":"Dominican Republic","day":60,"deaths":9},{"country":"Dominican Republic","day":80,"deaths":8},{"country":"Dominican Republic","day":100,"deaths":6},{"country":"Dominican Republic","day":120,"deaths":5},{"country":"Dominican Republic","day":140,"deaths":4},{"country":"Dominican Republic","day":160,"deaths":3},{"country":"Dominican Republic","day":180,"deaths":2.5},{"country":"Dominican Republic","day":200,"deaths":2},{"country":"Dominican Republic","day":220,"deaths":2},
{"country":"Luxembourg","day":0,"deaths":5},{"country":"Luxembourg","day":3,"deaths":3},{"country":"Luxembourg","day":6,"deaths":1.5},{"country":"Luxembourg","day":9,"deaths":0.71},{"country":"Luxembourg","day":12,"deaths":0.29},{"country":"Luxembourg","day":15,"deaths":0.57},{"country":"Luxembourg","day":18,"deaths":0.143},{"country":"Luxembourg","day":24,"deaths":0.43},{"country":"Luxembourg","day":30,"deaths":0.143},{"country":"Luxembourg","day":40,"deaths":0.29},{"country":"Luxembourg","day":46,"deaths":0.143},{"country":"Luxembourg","day":56,"deaths":0.71},{"country":"Luxembourg","day":62,"deaths":0.143},{"country":"Luxembourg","day":74,"deaths":0.43},{"country":"Luxembourg","day":80,"deaths":0.143},{"country":"Luxembourg","day":100,"deaths":0.143},{"country":"Luxembourg","day":104,"deaths":0.57},{"country":"Luxembourg","day":108,"deaths":0.143},{"country":"Luxembourg","day":140,"deaths":0.29},{"country":"Luxembourg","day":145,"deaths":0.143},{"country":"Luxembourg","day":170,"deaths":0.43},{"country":"Luxembourg","day":176,"deaths":1},{"country":"Luxembourg","day":182,"deaths":1.5},{"country":"Luxembourg","day":190,"deaths":2},{"country":"Luxembourg","day":200,"deaths":3},{"country":"Luxembourg","day":210,"deaths":4},
{"country":"Estonia","day":0,"deaths":5},{"country":"Estonia","day":4,"deaths":2},{"country":"Estonia","day":8,"deaths":1},{"country":"Estonia","day":12,"deaths":0.43},{"country":"Estonia","day":16,"deaths":0.71},{"country":"Estonia","day":20,"deaths":0.143},{"country":"Estonia","day":26,"deaths":0.43},{"country":"Estonia","day":34,"deaths":0.143},{"country":"Estonia","day":60,"deaths":0.143},{"country":"Estonia","day":64,"deaths":0.29},{"country":"Estonia","day":68,"deaths":0.143},{"country":"Estonia","day":120,"deaths":0.143},{"country":"Estonia","day":124,"deaths":0.43},{"country":"Estonia","day":128,"deaths":0.143},{"country":"Estonia","day":200,"deaths":0.143},{"country":"Estonia","day":204,"deaths":0.57},{"country":"Estonia","day":208,"deaths":0.143},
{"country":"Slovenia","day":0,"deaths":5},{"country":"Slovenia","day":5,"deaths":6},{"country":"Slovenia","day":10,"deaths":5},{"country":"Slovenia","day":15,"deaths":3},{"country":"Slovenia","day":20,"deaths":2},{"country":"Slovenia","day":25,"deaths":1},{"country":"Slovenia","day":30,"deaths":0.57},{"country":"Slovenia","day":35,"deaths":0.29},{"country":"Slovenia","day":40,"deaths":0.143},{"country":"Slovenia","day":45,"deaths":0.43},{"country":"Slovenia","day":50,"deaths":0.143},{"country":"Slovenia","day":60,"deaths":0.29},{"country":"Slovenia","day":70,"deaths":0.143},{"country":"Slovenia","day":80,"deaths":0.57},{"country":"Slovenia","day":85,"deaths":0.143},{"country":"Slovenia","day":95,"deaths":0.29},{"country":"Slovenia","day":100,"deaths":0.143},{"country":"Slovenia","day":110,"deaths":0.43},{"country":"Slovenia","day":120,"deaths":0.71},{"country":"Slovenia","day":130,"deaths":0.29},{"country":"Slovenia","day":140,"deaths":0.57},{"country":"Slovenia","day":150,"deaths":0.143},{"country":"Slovenia","day":160,"deaths":0.43},{"country":"Slovenia","day":170,"deaths":0.71},{"country":"Slovenia","day":180,"deaths":1.5},{"country":"Slovenia","day":190,"deaths":3},{"country":"Slovenia","day":200,"deaths":6},{"country":"Slovenia","day":210,"deaths":12},{"country":"Slovenia","day":220,"deaths":20},
{"country":"New Zealand","day":0,"deaths":5},{"country":"New Zealand","day":4,"deaths":3},{"country":"New Zealand","day":8,"deaths":1.5},{"country":"New Zealand","day":12,"deaths":0.71},{"country":"New Zealand","day":16,"deaths":0.29},{"country":"New Zealand","day":20,"deaths":0.57},{"country":"New Zealand","day":24,"deaths":0.143},{"country":"New Zealand","day":28,"deaths":0.43},{"country":"New Zealand","day":32,"deaths":0.143},{"country":"New Zealand","day":40,"deaths":0.143},
{"country":"China","day":0,"deaths":8},{"country":"China","day":6,"deaths":25},{"country":"China","day":12,"deaths":60},{"country":"China","day":18,"deaths":90},{"country":"China","day":22,"deaths":110},{"country":"China","day":26,"deaths":140},{"country":"China","day":30,"deaths":120},{"country":"China","day":34,"deaths":100},{"country":"China","day":40,"deaths":80},{"country":"China","day":46,"deaths":55},{"country":"China","day":52,"deaths":35},{"country":"China","day":58,"deaths":18},{"country":"China","day":64,"deaths":9},{"country":"China","day":70,"deaths":5},{"country":"China","day":76,"deaths":2.5},{"country":"China","day":80,"deaths":1.2},{"country":"China","day":84,"deaths":1},{"country":"China","day":85,"deaths":185},{"country":"China","day":91,"deaths":185},{"country":"China","day":92,"deaths":0.57},{"country":"China","day":96,"deaths":0.29},{"country":"China","day":100,"deaths":0.143},{"country":"China","day":200,"deaths":0.143},
{"country":"Kyrgyzstan","day":0,"deaths":5},{"country":"Kyrgyzstan","day":10,"deaths":8},{"country":"Kyrgyzstan","day":20,"deaths":12},{"country":"Kyrgyzstan","day":30,"deaths":15},{"country":"Kyrgyzstan","day":40,"deaths":20},{"country":"Kyrgyzstan","day":50,"deaths":25},{"country":"Kyrgyzstan","day":60,"deaths":20},{"country":"Kyrgyzstan","day":70,"deaths":12},{"country":"Kyrgyzstan","day":80,"deaths":8},{"country":"Kyrgyzstan","day":90,"deaths":6},{"country":"Kyrgyzstan","day":100,"deaths":5},{"country":"Kyrgyzstan","day":110,"deaths":4},{"country":"Kyrgyzstan","day":120,"deaths":3},{"country":"Kyrgyzstan","day":130,"deaths":2.5},{"country":"Kyrgyzstan","day":140,"deaths":2},{"country":"Kyrgyzstan","day":150,"deaths":3},{"country":"Kyrgyzstan","day":160,"deaths":4},{"country":"Kyrgyzstan","day":170,"deaths":5},{"country":"Kyrgyzstan","day":180,"deaths":6},{"country":"Kyrgyzstan","day":190,"deaths":5},{"country":"Kyrgyzstan","day":200,"deaths":4},{"country":"Kyrgyzstan","day":210,"deaths":3.5},{"country":"Kyrgyzstan","day":220,"deaths":2.9},{"country":"Kyrgyzstan","day":226,"deaths":2},{"country":"Kyrgyzstan","day":233,"deaths":1.36},{"country":"Kyrgyzstan","day":240,"deaths":0.56},{"country":"Kyrgyzstan","day":244,"deaths":0.71},{"country":"Kyrgyzstan","day":246,"deaths":0.27},{"country":"Kyrgyzstan","day":250,"deaths":0.143},{"country":"Kyrgyzstan","day":258,"deaths":0.143}
],
"hl": [
{"country":"United States","continent":"North America","day":0,"deaths":6},{"country":"United States","continent":"North America","day":2,"deaths":10},{"country":"United States","continent":"North America","day":4,"deaths":18},{"country":"United States","continent":"North America","day":6,"deaths":37},{"country":"United States","continent":"North America","day":8,"deaths":70},{"country":"United States","continent":"North America","day":10,"deaths":128},{"country":"United States","continent":"North America","day":12,"deaths":230},{"country":"United States","continent":"North America","day":14,"deaths":380},{"country":"United States","continent":"North America","day":16,"deaths":520},{"country":"United States","continent":"North America","day":18,"deaths":700},{"country":"United States","continent":"North America","day":21,"deaths":1000},{"country":"United States","continent":"North America","day":24,"deaths":1360},{"country":"United States","continent":"North America","day":27,"deaths":1650},{"country":"United States","continent":"North America","day":30,"deaths":1850},{"country":"United States","continent":"North America","day":32,"deaths":2100},{"country":"United States","continent":"North America","day":34,"deaths":2500},{"country":"United States","continent":"North America","day":35,"deaths":2560},{"country":"United States","continent":"North America","day":36,"deaths":2640},{"country":"United States","continent":"North America","day":37,"deaths":2620},{"country":"United States","continent":"North America","day":38,"deaths":2400},{"country":"United States","continent":"North America","day":39,"deaths":2280},{"country":"United States","continent":"North America","day":41,"deaths":2150},{"country":"United States","continent":"North America","day":44,"deaths":2080},{"country":"United States","continent":"North America","day":47,"deaths":1950},{"country":"United States","continent":"North America","day":50,"deaths":1900},{"country":"United States","continent":"North America","day":53,"deaths":1830},{"country":"United States","continent":"North America","day":57,"deaths":1720},{"country":"United States","continent":"North America","day":60,"deaths":1580},{"country":"United States","continent":"North America","day":64,"deaths":1380},{"country":"United States","continent":"North America","day":68,"deaths":1200},{"country":"United States","continent":"North America","day":71,"deaths":1070},{"country":"United States","continent":"North America","day":73,"deaths":1000},{"country":"United States","continent":"North America","day":75,"deaths":1020},{"country":"United States","continent":"North America","day":77,"deaths":960},{"country":"United States","continent":"North America","day":80,"deaths":920},{"country":"United States","continent":"North America","day":82,"deaths":900},{"country":"United States","continent":"North America","day":86,"deaths":850},{"country":"United States","continent":"North America","day":90,"deaths":800},{"country":"United States","continent":"North America","day":93,"deaths":750},{"country":"United States","continent":"North America","day":96,"deaths":680},{"country":"United States","continent":"North America","day":99,"deaths":620},{"country":"United States","continent":"North America","day":101,"deaths":600},{"country":"United States","continent":"North America","day":102,"deaths":640},{"country":"United States","continent":"North America","day":103,"deaths":840},{"country":"United States","continent":"North America","day":105,"deaths":850},{"country":"United States","continent":"North America","day":108,"deaths":870},{"country":"United States","continent":"North America","day":109,"deaths":860},{"country":"United States","continent":"North America","day":110,"deaths":630},{"country":"United States","continent":"North America","day":112,"deaths":600},{"country":"United States","continent":"North America","day":115,"deaths":580},{"country":"United States","continent":"North America","day":118,"deaths":650},{"country":"United States","continent":"North America","day":121,"deaths":740},{"country":"United States","continent":"North America","day":125,"deaths":770},{"country":"United States","continent":"North America","day":128,"deaths":790},{"country":"United States","continent":"North America","day":132,"deaths":830},{"country":"United States","continent":"North America","day":135,"deaths":890},{"country":"United States","continent":"North America","day":137,"deaths":980},{"country":"United States","continent":"North America","day":139,"deaths":1100},{"country":"United States","continent":"North America","day":141,"deaths":1070},{"country":"United States","continent":"North America","day":143,"deaths":1080},{"country":"United States","continent":"North America","day":145,"deaths":1120},{"country":"United States","continent":"North America","day":147,"deaths":1110},{"country":"United States","continent":"North America","day":149,"deaths":1160},{"country":"United States","continent":"North America","day":151,"deaths":1120},{"country":"United States","continent":"North America","day":154,"deaths":1020},{"country":"United States","continent":"North America","day":158,"deaths":1010},{"country":"United States","continent":"North America","day":162,"deaths":990},{"country":"United States","continent":"North America","day":166,"deaths":960},{"country":"United States","continent":"North America","day":170,"deaths":900},{"country":"United States","continent":"North America","day":173,"deaths":860},{"country":"United States","continent":"North America","day":175,"deaths":840},{"country":"United States","continent":"North America","day":177,"deaths":760},{"country":"United States","continent":"North America","day":178,"deaths":720},{"country":"United States","continent":"North America","day":181,"deaths":730},{"country":"United States","continent":"North America","day":184,"deaths":750},{"country":"United States","continent":"North America","day":185,"deaths":880},{"country":"United States","continent":"North America","day":187,"deaths":830},{"country":"United States","continent":"North America","day":190,"deaths":760},{"country":"United States","continent":"North America","day":192,"deaths":720},{"country":"United States","continent":"North America","day":196,"deaths":720},{"country":"United States","continent":"North America","day":200,"deaths":710},{"country":"United States","continent":"North America","day":204,"deaths":700},{"country":"United States","continent":"North America","day":208,"deaths":690},{"country":"United States","continent":"North America","day":212,"deaths":710},{"country":"United States","continent":"North America","day":216,"deaths":690},{"country":"United States","continent":"North America","day":220,"deaths":740},{"country":"United States","continent":"North America","day":223,"deaths":770},{"country":"United States","continent":"North America","day":226,"deaths":800},{"country":"United States","continent":"North America","day":230,"deaths":820},{"country":"United States","continent":"North America","day":234,"deaths":850},{"country":"United States","continent":"North America","day":237,"deaths":880},
{"country":"Germany","continent":"Europe","day":0,"deaths":7},{"country":"Germany","continent":"Europe","day":3,"deaths":12},{"country":"Germany","continent":"Europe","day":6,"deaths":25},{"country":"Germany","continent":"Europe","day":9,"deaths":45},{"country":"Germany","continent":"Europe","day":12,"deaths":75},{"country":"Germany","continent":"Europe","day":14,"deaths":110},{"country":"Germany","continent":"Europe","day":16,"deaths":150},{"country":"Germany","continent":"Europe","day":18,"deaths":175},{"country":"Germany","continent":"Europe","day":20,"deaths":195},{"country":"Germany","continent":"Europe","day":22,"deaths":200},{"country":"Germany","continent":"Europe","day":24,"deaths":205},{"country":"Germany","continent":"Europe","day":26,"deaths":215},{"country":"Germany","continent":"Europe","day":28,"deaths":222},{"country":"Germany","continent":"Europe","day":30,"deaths":228},{"country":"Germany","continent":"Europe","day":32,"deaths":225},{"country":"Germany","continent":"Europe","day":34,"deaths":215},{"country":"Germany","continent":"Europe","day":36,"deaths":205},{"country":"Germany","continent":"Europe","day":39,"deaths":190},{"country":"Germany","continent":"Europe","day":42,"deaths":165},{"country":"Germany","continent":"Europe","day":45,"deaths":150},{"country":"Germany","continent":"Europe","day":47,"deaths":138},{"country":"Germany","continent":"Europe","day":50,"deaths":125},{"country":"Germany","continent":"Europe","day":53,"deaths":110},{"country":"Germany","continent":"Europe","day":55,"deaths":98},{"country":"Germany","continent":"Europe","day":57,"deaths":85},{"country":"Germany","continent":"Europe","day":59,"deaths":73},{"country":"Germany","continent":"Europe","day":61,"deaths":64},{"country":"Germany","continent":"Europe","day":64,"deaths":53},{"country":"Germany","continent":"Europe","day":67,"deaths":47},{"country":"Germany","continent":"Europe","day":70,"deaths":42},{"country":"Germany","continent":"Europe","day":72,"deaths":37},{"country":"Germany","continent":"Europe","day":74,"deaths":33},{"country":"Germany","continent":"Europe","day":76,"deaths":27},{"country":"Germany","continent":"Europe","day":78,"deaths":24},{"country":"Germany","continent":"Europe","day":81,"deaths":24},{"country":"Germany","continent":"Europe","day":83,"deaths":27},{"country":"Germany","continent":"Europe","day":85,"deaths":21},{"country":"Germany","continent":"Europe","day":87,"deaths":18},{"country":"Germany","continent":"Europe","day":90,"deaths":14},{"country":"Germany","continent":"Europe","day":93,"deaths":12},{"country":"Germany","continent":"Europe","day":96,"deaths":11},{"country":"Germany","continent":"Europe","day":100,"deaths":10.5},{"country":"Germany","continent":"Europe","day":104,"deaths":9},{"country":"Germany","continent":"Europe","day":108,"deaths":8.5},{"country":"Germany","continent":"Europe","day":112,"deaths":8},{"country":"Germany","continent":"Europe","day":116,"deaths":7.4},{"country":"Germany","continent":"Europe","day":120,"deaths":6.8},{"country":"Germany","continent":"Europe","day":124,"deaths":6},{"country":"Germany","continent":"Europe","day":128,"deaths":5.5},{"country":"Germany","continent":"Europe","day":132,"deaths":5},{"country":"Germany","continent":"Europe","day":136,"deaths":4.7},{"country":"Germany","continent":"Europe","day":140,"deaths":4.2},{"country":"Germany","continent":"Europe","day":144,"deaths":4.5},{"country":"Germany","continent":"Europe","day":148,"deaths":4},{"country":"Germany","continent":"Europe","day":152,"deaths":4.3},{"country":"Germany","continent":"Europe","day":156,"deaths":5},{"country":"Germany","continent":"Europe","day":160,"deaths":4.6},{"country":"Germany","continent":"Europe","day":164,"deaths":5.2},{"country":"Germany","continent":"Europe","day":168,"deaths":5.8},{"country":"Germany","continent":"Europe","day":172,"deaths":6.5},{"country":"Germany","continent":"Europe","day":176,"deaths":7},{"country":"Germany","continent":"Europe","day":180,"deaths":8},{"country":"Germany","continent":"Europe","day":184,"deaths":8.5},{"country":"Germany","continent":"Europe","day":188,"deaths":9},{"country":"Germany","continent":"Europe","day":192,"deaths":9.8},{"country":"Germany","continent":"Europe","day":196,"deaths":10.5},{"country":"Germany","continent":"Europe","day":200,"deaths":11},{"country":"Germany","continent":"Europe","day":203,"deaths":12.5},{"country":"Germany","continent":"Europe","day":206,"deaths":14},{"country":"Germany","continent":"Europe","day":208,"deaths":15},{"country":"Germany","continent":"Europe","day":210,"deaths":17},{"country":"Germany","continent":"Europe","day":212,"deaths":21},{"country":"Germany","continent":"Europe","day":214,"deaths":26},{"country":"Germany","continent":"Europe","day":216,"deaths":29},{"country":"Germany","continent":"Europe","day":218,"deaths":32},{"country":"Germany","continent":"Europe","day":220,"deaths":37},{"country":"Germany","continent":"Europe","day":222,"deaths":43},{"country":"Germany","continent":"Europe","day":224,"deaths":50},{"country":"Germany","continent":"Europe","day":226,"deaths":57},{"country":"Germany","continent":"Europe","day":228,"deaths":66},{"country":"Germany","continent":"Europe","day":230,"deaths":85},{"country":"Germany","continent":"Europe","day":232,"deaths":111},
{"country":"Poland","continent":"Europe","day":0,"deaths":6},{"country":"Poland","continent":"Europe","day":3,"deaths":10},{"country":"Poland","continent":"Europe","day":6,"deaths":17},{"country":"Poland","continent":"Europe","day":9,"deaths":19},{"country":"Poland","continent":"Europe","day":11,"deaths":20},{"country":"Poland","continent":"Europe","day":14,"deaths":22},{"country":"Poland","continent":"Europe","day":17,"deaths":21},{"country":"Poland","continent":"Europe","day":20,"deaths":23},{"country":"Poland","continent":"Europe","day":23,"deaths":25},{"country":"Poland","continent":"Europe","day":26,"deaths":26},{"country":"Poland","continent":"Europe","day":29,"deaths":28},{"country":"Poland","continent":"Europe","day":31,"deaths":21},{"country":"Poland","continent":"Europe","day":33,"deaths":22},{"country":"Poland","continent":"Europe","day":36,"deaths":19},{"country":"Poland","continent":"Europe","day":40,"deaths":20},{"country":"Poland","continent":"Europe","day":43,"deaths":19},{"country":"Poland","continent":"Europe","day":46,"deaths":17},{"country":"Poland","continent":"Europe","day":48,"deaths":15},{"country":"Poland","continent":"Europe","day":51,"deaths":13},{"country":"Poland","continent":"Europe","day":53,"deaths":11.5},{"country":"Poland","continent":"Europe","day":56,"deaths":11},{"country":"Poland","continent":"Europe","day":59,"deaths":10},{"country":"Poland","continent":"Europe","day":62,"deaths":11},{"country":"Poland","continent":"Europe","day":64,"deaths":12.3},{"country":"Poland","continent":"Europe","day":67,"deaths":12},{"country":"Poland","continent":"Europe","day":71,"deaths":13.3},{"country":"Poland","continent":"Europe","day":75,"deaths":12},{"country":"Poland","continent":"Europe","day":78,"deaths":12.5},{"country":"Poland","continent":"Europe","day":81,"deaths":13},{"country":"Poland","continent":"Europe","day":85,"deaths":14.3},{"country":"Poland","continent":"Europe","day":88,"deaths":14},{"country":"Poland","continent":"Europe","day":91,"deaths":13},{"country":"Poland","continent":"Europe","day":95,"deaths":11.5},{"country":"Poland","continent":"Europe","day":98,"deaths":12},{"country":"Poland","continent":"Europe","day":101,"deaths":12.3},{"country":"Poland","continent":"Europe","day":105,"deaths":12},{"country":"Poland","continent":"Europe","day":108,"deaths":11},{"country":"Poland","continent":"Europe","day":112,"deaths":10},{"country":"Poland","continent":"Europe","day":116,"deaths":8.6},{"country":"Poland","continent":"Europe","day":119,"deaths":8.8},{"country":"Poland","continent":"Europe","day":122,"deaths":8.3},{"country":"Poland","continent":"Europe","day":125,"deaths":9},{"country":"Poland","continent":"Europe","day":127,"deaths":9.5},{"country":"Poland","continent":"Europe","day":132,"deaths":11.5},{"country":"Poland","continent":"Europe","day":136,"deaths":11},{"country":"Poland","continent":"Europe","day":140,"deaths":11.5},{"country":"Poland","continent":"Europe","day":145,"deaths":12.3},{"country":"Poland","continent":"Europe","day":148,"deaths":12},{"country":"Poland","continent":"Europe","day":151,"deaths":12},{"country":"Poland","continent":"Europe","day":155,"deaths":11},{"country":"Poland","continent":"Europe","day":160,"deaths":10},{"country":"Poland","continent":"Europe","day":164,"deaths":11},{"country":"Poland","continent":"Europe","day":167,"deaths":12},{"country":"Poland","continent":"Europe","day":169,"deaths":14},{"country":"Poland","continent":"Europe","day":172,"deaths":18},{"country":"Poland","continent":"Europe","day":175,"deaths":17},{"country":"Poland","continent":"Europe","day":177,"deaths":19},{"country":"Poland","continent":"Europe","day":180,"deaths":22},{"country":"Poland","continent":"Europe","day":182,"deaths":24},{"country":"Poland","continent":"Europe","day":185,"deaths":28},{"country":"Poland","continent":"Europe","day":188,"deaths":35},{"country":"Poland","continent":"Europe","day":190,"deaths":43},{"country":"Poland","continent":"Europe","day":192,"deaths":57},{"country":"Poland","continent":"Europe","day":195,"deaths":63},{"country":"Poland","continent":"Europe","day":197,"deaths":71},{"country":"Poland","continent":"Europe","day":200,"deaths":83},{"country":"Poland","continent":"Europe","day":202,"deaths":90},{"country":"Poland","continent":"Europe","day":204,"deaths":97},{"country":"Poland","continent":"Europe","day":206,"deaths":110},{"country":"Poland","continent":"Europe","day":208,"deaths":128},{"country":"Poland","continent":"Europe","day":210,"deaths":140},{"country":"Poland","continent":"Europe","day":213,"deaths":165},{"country":"Poland","continent":"Europe","day":215,"deaths":200},{"country":"Poland","continent":"Europe","day":218,"deaths":280},
{"country":"Czech Republic","continent":"Europe","day":0,"deaths":5},{"country":"Czech Republic","continent":"Europe","day":3,"deaths":6.5},{"country":"Czech Republic","continent":"Europe","day":6,"deaths":8},{"country":"Czech Republic","continent":"Europe","day":9,"deaths":9.5},{"country":"Czech Republic","continent":"Europe","day":12,"deaths":10},{"country":"Czech Republic","continent":"Europe","day":15,"deaths":9},{"country":"Czech Republic","continent":"Europe","day":18,"deaths":8},{"country":"Czech Republic","continent":"Europe","day":21,"deaths":7},{"country":"Czech Republic","continent":"Europe","day":24,"deaths":6},{"country":"Czech Republic","continent":"Europe","day":27,"deaths":5.5},{"country":"Czech Republic","continent":"Europe","day":30,"deaths":4.5},{"country":"Czech Republic","continent":"Europe","day":33,"deaths":4},{"country":"Czech Republic","continent":"Europe","day":36,"deaths":3.4},{"country":"Czech Republic","continent":"Europe","day":40,"deaths":3},{"country":"Czech Republic","continent":"Europe","day":43,"deaths":2.5},{"country":"Czech Republic","continent":"Europe","day":46,"deaths":2.2},{"country":"Czech Republic","continent":"Europe","day":49,"deaths":2},{"country":"Czech Republic","continent":"Europe","day":52,"deaths":1.6},{"country":"Czech Republic","continent":"Europe","day":55,"deaths":1.4},{"country":"Czech Republic","continent":"Europe","day":57,"deaths":0.96},{"country":"Czech Republic","continent":"Europe","day":60,"deaths":1.1},{"country":"Czech Republic","continent":"Europe","day":63,"deaths":0.8},{"country":"Czech Republic","continent":"Europe","day":66,"deaths":0.7},{"country":"Czech Republic","continent":"Europe","day":69,"deaths":0.5},{"country":"Czech Republic","continent":"Europe","day":72,"deaths":0.35},{"country":"Czech Republic","continent":"Europe","day":74,"deaths":0.35},{"country":"Czech Republic","continent":"Europe","day":77,"deaths":0.6},{"country":"Czech Republic","continent":"Europe","day":80,"deaths":0.9},{"country":"Czech Republic","continent":"Europe","day":83,"deaths":1},{"country":"Czech Republic","continent":"Europe","day":86,"deaths":1.5},{"country":"Czech Republic","continent":"Europe","day":88,"deaths":1.8},{"country":"Czech Republic","continent":"Europe","day":90,"deaths":1.3},{"country":"Czech Republic","continent":"Europe","day":92,"deaths":0.8},{"country":"Czech Republic","continent":"Europe","day":95,"deaths":0.35},{"country":"Czech Republic","continent":"Europe","day":98,"deaths":0.3},{"country":"Czech Republic","continent":"Europe","day":101,"deaths":0.53},{"country":"Czech Republic","continent":"Europe","day":104,"deaths":0.6},{"country":"Czech Republic","continent":"Europe","day":107,"deaths":0.8},{"country":"Czech Republic","continent":"Europe","day":109,"deaths":1},{"country":"Czech Republic","continent":"Europe","day":112,"deaths":1.4},{"country":"Czech Republic","continent":"Europe","day":114,"deaths":1.85},{"country":"Czech Republic","continent":"Europe","day":117,"deaths":2},{"country":"Czech Republic","continent":"Europe","day":120,"deaths":2.1},{"country":"Czech Republic","continent":"Europe","day":124,"deaths":2},{"country":"Czech Republic","continent":"Europe","day":127,"deaths":1.1},{"country":"Czech Republic","continent":"Europe","day":129,"deaths":1.4},{"country":"Czech Republic","continent":"Europe","day":131,"deaths":1.2},{"country":"Czech Republic","continent":"Europe","day":133,"deaths":0.29},{"country":"Czech Republic","continent":"Europe","day":135,"deaths":2},{"country":"Czech Republic","continent":"Europe","day":137,"deaths":2.6},{"country":"Czech Republic","continent":"Europe","day":141,"deaths":2.5},{"country":"Czech Republic","continent":"Europe","day":144,"deaths":2.2},{"country":"Czech Republic","continent":"Europe","day":147,"deaths":1.9},{"country":"Czech Republic","continent":"Europe","day":150,"deaths":2.4},{"country":"Czech Republic","continent":"Europe","day":153,"deaths":2.8},{"country":"Czech Republic","continent":"Europe","day":156,"deaths":3.2},{"country":"Czech Republic","continent":"Europe","day":160,"deaths":3.5},{"country":"Czech Republic","continent":"Europe","day":164,"deaths":4.1},{"country":"Czech Republic","continent":"Europe","day":167,"deaths":4.8},{"country":"Czech Republic","continent":"Europe","day":171,"deaths":6},{"country":"Czech Republic","continent":"Europe","day":175,"deaths":8},{"country":"Czech Republic","continent":"Europe","day":178,"deaths":11},{"country":"Czech Republic","continent":"Europe","day":181,"deaths":14},{"country":"Czech Republic","continent":"Europe","day":184,"deaths":17},{"country":"Czech Republic","continent":"Europe","day":186,"deaths":19},{"country":"Czech Republic","continent":"Europe","day":188,"deaths":28},{"country":"Czech Republic","continent":"Europe","day":191,"deaths":46},{"country":"Czech Republic","continent":"Europe","day":194,"deaths":58},{"country":"Czech Republic","continent":"Europe","day":197,"deaths":66},{"country":"Czech Republic","continent":"Europe","day":200,"deaths":78},{"country":"Czech Republic","continent":"Europe","day":203,"deaths":92},{"country":"Czech Republic","continent":"Europe","day":206,"deaths":115},{"country":"Czech Republic","continent":"Europe","day":209,"deaths":150},{"country":"Czech Republic","continent":"Europe","day":212,"deaths":170},{"country":"Czech Republic","continent":"Europe","day":215,"deaths":190},{"country":"Czech Republic","continent":"Europe","day":218,"deaths":210},
{"country":"Greece","continent":"Europe","day":0,"deaths":5},{"country":"Greece","continent":"Europe","day":3,"deaths":4.2},{"country":"Greece","continent":"Europe","day":6,"deaths":4},{"country":"Greece","continent":"Europe","day":9,"deaths":3},{"country":"Greece","continent":"Europe","day":12,"deaths":2.5},{"country":"Greece","continent":"Europe","day":15,"deaths":2.2},{"country":"Greece","continent":"Europe","day":18,"deaths":1.8},{"country":"Greece","continent":"Europe","day":21,"deaths":1.6},{"country":"Greece","continent":"Europe","day":24,"deaths":2.2},{"country":"Greece","continent":"Europe","day":27,"deaths":1.5},{"country":"Greece","continent":"Europe","day":30,"deaths":1.2},{"country":"Greece","continent":"Europe","day":33,"deaths":1.4},{"country":"Greece","continent":"Europe","day":36,"deaths":1},{"country":"Greece","continent":"Europe","day":40,"deaths":0.8},{"country":"Greece","continent":"Europe","day":43,"deaths":1},{"country":"Greece","continent":"Europe","day":46,"deaths":0.6},{"country":"Greece","continent":"Europe","day":50,"deaths":0.5},{"country":"Greece","continent":"Europe","day":53,"deaths":0.7},{"country":"Greece","continent":"Europe","day":56,"deaths":0.4},{"country":"Greece","continent":"Europe","day":60,"deaths":0.5},{"country":"Greece","continent":"Europe","day":63,"deaths":0.3},{"country":"Greece","continent":"Europe","day":66,"deaths":0.43},{"country":"Greece","continent":"Europe","day":70,"deaths":0.3},{"country":"Greece","continent":"Europe","day":73,"deaths":0.57},{"country":"Greece","continent":"Europe","day":76,"deaths":0.43},{"country":"Greece","continent":"Europe","day":80,"deaths":0.3},{"country":"Greece","continent":"Europe","day":83,"deaths":0.143},{"country":"Greece","continent":"Europe","day":86,"deaths":0.143},{"country":"Greece","continent":"Europe","day":87,"deaths":0.29},{"country":"Greece","continent":"Europe","day":88,"deaths":0.143},{"country":"Greece","continent":"Europe","day":99,"deaths":0.143},{"country":"Greece","continent":"Europe","day":101,"deaths":0.56},{"country":"Greece","continent":"Europe","day":103,"deaths":0.5},{"country":"Greece","continent":"Europe","day":106,"deaths":0.143},{"country":"Greece","continent":"Europe","day":108,"deaths":0.143},{"country":"Greece","continent":"Europe","day":110,"deaths":0.6},{"country":"Greece","continent":"Europe","day":113,"deaths":1},{"country":"Greece","continent":"Europe","day":115,"deaths":0.7},{"country":"Greece","continent":"Europe","day":117,"deaths":0.29},{"country":"Greece","continent":"Europe","day":119,"deaths":0.8},{"country":"Greece","continent":"Europe","day":122,"deaths":1},{"country":"Greece","continent":"Europe","day":124,"deaths":0.62},{"country":"Greece","continent":"Europe","day":126,"deaths":1},{"country":"Greece","continent":"Europe","day":128,"deaths":0.9},{"country":"Greece","continent":"Europe","day":131,"deaths":1.4},{"country":"Greece","continent":"Europe","day":134,"deaths":1.8},{"country":"Greece","continent":"Europe","day":137,"deaths":1.6},{"country":"Greece","continent":"Europe","day":140,"deaths":2},{"country":"Greece","continent":"Europe","day":143,"deaths":2.6},{"country":"Greece","continent":"Europe","day":146,"deaths":3},{"country":"Greece","continent":"Europe","day":149,"deaths":3.5},{"country":"Greece","continent":"Europe","day":152,"deaths":2.5},{"country":"Greece","continent":"Europe","day":155,"deaths":2},{"country":"Greece","continent":"Europe","day":158,"deaths":3},{"country":"Greece","continent":"Europe","day":161,"deaths":3.2},{"country":"Greece","continent":"Europe","day":164,"deaths":2.5},{"country":"Greece","continent":"Europe","day":167,"deaths":3},{"country":"Greece","continent":"Europe","day":170,"deaths":3.5},{"country":"Greece","continent":"Europe","day":173,"deaths":4},{"country":"Greece","continent":"Europe","day":176,"deaths":4.5},{"country":"Greece","continent":"Europe","day":180,"deaths":5},{"country":"Greece","continent":"Europe","day":184,"deaths":5.5},{"country":"Greece","continent":"Europe","day":187,"deaths":6},{"country":"Greece","continent":"Europe","day":190,"deaths":8},{"country":"Greece","continent":"Europe","day":193,"deaths":9.5},{"country":"Greece","continent":"Europe","day":196,"deaths":10.7},{"country":"Greece","continent":"Europe","day":200,"deaths":10.7},{"country":"Greece","continent":"Europe","day":203,"deaths":10},{"country":"Greece","continent":"Europe","day":206,"deaths":10.5},{"country":"Greece","continent":"Europe","day":209,"deaths":9.2},{"country":"Greece","continent":"Europe","day":211,"deaths":11},{"country":"Greece","continent":"Europe","day":213,"deaths":12.3},{"country":"Greece","continent":"Europe","day":216,"deaths":13.7},
{"country":"Serbia","continent":"Europe","day":0,"deaths":6},{"country":"Serbia","continent":"Europe","day":3,"deaths":7},{"country":"Serbia","continent":"Europe","day":6,"deaths":8},{"country":"Serbia","continent":"Europe","day":9,"deaths":9},{"country":"Serbia","continent":"Europe","day":12,"deaths":9.5},{"country":"Serbia","continent":"Europe","day":15,"deaths":10},{"country":"Serbia","continent":"Europe","day":18,"deaths":10.5},{"country":"Serbia","continent":"Europe","day":21,"deaths":10},{"country":"Serbia","continent":"Europe","day":24,"deaths":9},{"country":"Serbia","continent":"Europe","day":27,"deaths":8.5},{"country":"Serbia","continent":"Europe","day":30,"deaths":8},{"country":"Serbia","continent":"Europe","day":33,"deaths":7.5},{"country":"Serbia","continent":"Europe","day":35,"deaths":7},{"country":"Serbia","continent":"Europe","day":38,"deaths":7.8},{"country":"Serbia","continent":"Europe","day":40,"deaths":8.6},{"country":"Serbia","continent":"Europe","day":44,"deaths":9},{"country":"Serbia","continent":"Europe","day":47,"deaths":9.3},{"country":"Serbia","continent":"Europe","day":50,"deaths":8.5},{"country":"Serbia","continent":"Europe","day":52,"deaths":8},{"country":"Serbia","continent":"Europe","day":55,"deaths":7},{"country":"Serbia","continent":"Europe","day":58,"deaths":6.3},{"country":"Serbia","continent":"Europe","day":61,"deaths":6.8},{"country":"Serbia","continent":"Europe","day":64,"deaths":7},{"country":"Serbia","continent":"Europe","day":67,"deaths":6.5},{"country":"Serbia","continent":"Europe","day":71,"deaths":5.9},{"country":"Serbia","continent":"Europe","day":74,"deaths":5},{"country":"Serbia","continent":"Europe","day":77,"deaths":4.5},{"country":"Serbia","continent":"Europe","day":80,"deaths":5},{"country":"Serbia","continent":"Europe","day":83,"deaths":6},{"country":"Serbia","continent":"Europe","day":86,"deaths":7},{"country":"Serbia","continent":"Europe","day":89,"deaths":8},{"country":"Serbia","continent":"Europe","day":92,"deaths":8.5},{"country":"Serbia","continent":"Europe","day":95,"deaths":9},{"country":"Serbia","continent":"Europe","day":98,"deaths":9.5},{"country":"Serbia","continent":"Europe","day":101,"deaths":10},{"country":"Serbia","continent":"Europe","day":104,"deaths":10.5},{"country":"Serbia","continent":"Europe","day":107,"deaths":11},{"country":"Serbia","continent":"Europe","day":110,"deaths":10},{"country":"Serbia","continent":"Europe","day":113,"deaths":9.5},{"country":"Serbia","continent":"Europe","day":116,"deaths":8.6},{"country":"Serbia","continent":"Europe","day":119,"deaths":8},{"country":"Serbia","continent":"Europe","day":122,"deaths":7.5},{"country":"Serbia","continent":"Europe","day":125,"deaths":6.5},{"country":"Serbia","continent":"Europe","day":128,"deaths":5.5},{"country":"Serbia","continent":"Europe","day":131,"deaths":5},{"country":"Serbia","continent":"Europe","day":134,"deaths":4.3},{"country":"Serbia","continent":"Europe","day":137,"deaths":3.8},{"country":"Serbia","continent":"Europe","day":140,"deaths":3.5},{"country":"Serbia","continent":"Europe","day":143,"deaths":2.5},{"country":"Serbia","continent":"Europe","day":146,"deaths":2.2},{"country":"Serbia","continent":"Europe","day":150,"deaths":1.6},{"country":"Serbia","continent":"Europe","day":153,"deaths":1.8},{"country":"Serbia","continent":"Europe","day":156,"deaths":1.5},{"country":"Serbia","continent":"Europe","day":160,"deaths":1.27},{"country":"Serbia","continent":"Europe","day":164,"deaths":1.3},{"country":"Serbia","continent":"Europe","day":169,"deaths":1.2},{"country":"Serbia","continent":"Europe","day":172,"deaths":1},{"country":"Serbia","continent":"Europe","day":174,"deaths":0.88},{"country":"Serbia","continent":"Europe","day":176,"deaths":0.73},{"country":"Serbia","continent":"Europe","day":179,"deaths":0.8},{"country":"Serbia","continent":"Europe","day":182,"deaths":1},{"country":"Serbia","continent":"Europe","day":186,"deaths":1.36},{"country":"Serbia","continent":"Europe","day":189,"deaths":1.5},{"country":"Serbia","continent":"Europe","day":192,"deaths":1.6},{"country":"Serbia","continent":"Europe","day":196,"deaths":1.8},{"country":"Serbia","continent":"Europe","day":200,"deaths":2},{"country":"Serbia","continent":"Europe","day":203,"deaths":2.2},{"country":"Serbia","continent":"Europe","day":205,"deaths":2.46},{"country":"Serbia","continent":"Europe","day":208,"deaths":2.9},{"country":"Serbia","continent":"Europe","day":210,"deaths":4.1},{"country":"Serbia","continent":"Europe","day":212,"deaths":5.9},{"country":"Serbia","continent":"Europe","day":214,"deaths":7},{"country":"Serbia","continent":"Europe","day":215,"deaths":8.3},
{"country":"Bulgaria","continent":"Europe","day":0,"deaths":5},{"country":"Bulgaria","continent":"Europe","day":3,"deaths":4.5},{"country":"Bulgaria","continent":"Europe","day":6,"deaths":4},{"country":"Bulgaria","continent":"Europe","day":9,"deaths":2.8},{"country":"Bulgaria","continent":"Europe","day":11,"deaths":2},{"country":"Bulgaria","continent":"Europe","day":13,"deaths":1.8},{"country":"Bulgaria","continent":"Europe","day":16,"deaths":2.6},{"country":"Bulgaria","continent":"Europe","day":18,"deaths":3.2},{"country":"Bulgaria","continent":"Europe","day":20,"deaths":3.7},{"country":"Bulgaria","continent":"Europe","day":22,"deaths":3},{"country":"Bulgaria","continent":"Europe","day":24,"deaths":2.6},{"country":"Bulgaria","continent":"Europe","day":26,"deaths":2.2},{"country":"Bulgaria","continent":"Europe","day":28,"deaths":1.8},{"country":"Bulgaria","continent":"Europe","day":30,"deaths":1.6},{"country":"Bulgaria","continent":"Europe","day":33,"deaths":1.1},{"country":"Bulgaria","continent":"Europe","day":36,"deaths":0.77},{"country":"Bulgaria","continent":"Europe","day":39,"deaths":1.1},{"country":"Bulgaria","continent":"Europe","day":42,"deaths":1.5},{"country":"Bulgaria","continent":"Europe","day":44,"deaths":1.85},{"country":"Bulgaria","continent":"Europe","day":47,"deaths":2.2},{"country":"Bulgaria","continent":"Europe","day":50,"deaths":2.5},{"country":"Bulgaria","continent":"Europe","day":53,"deaths":2.9},{"country":"Bulgaria","continent":"Europe","day":55,"deaths":1.8},{"country":"Bulgaria","continent":"Europe","day":57,"deaths":0.96},{"country":"Bulgaria","continent":"Europe","day":60,"deaths":1.1},{"country":"Bulgaria","continent":"Europe","day":62,"deaths":1.2},{"country":"Bulgaria","continent":"Europe","day":64,"deaths":1.19},{"country":"Bulgaria","continent":"Europe","day":66,"deaths":0.9},{"country":"Bulgaria","continent":"Europe","day":68,"deaths":0.6},{"country":"Bulgaria","continent":"Europe","day":70,"deaths":0.4},{"country":"Bulgaria","continent":"Europe","day":72,"deaths":0.32},{"country":"Bulgaria","continent":"Europe","day":74,"deaths":0.6},{"country":"Bulgaria","continent":"Europe","day":76,"deaths":0.88},{"country":"Bulgaria","continent":"Europe","day":79,"deaths":1},{"country":"Bulgaria","continent":"Europe","day":82,"deaths":1.3},{"country":"Bulgaria","continent":"Europe","day":84,"deaths":1.6},{"country":"Bulgaria","continent":"Europe","day":86,"deaths":2},{"country":"Bulgaria","continent":"Europe","day":88,"deaths":3.2},{"country":"Bulgaria","continent":"Europe","day":90,"deaths":5.9},{"country":"Bulgaria","continent":"Europe","day":92,"deaths":7.5},{"country":"Bulgaria","continent":"Europe","day":94,"deaths":10},{"country":"Bulgaria","continent":"Europe","day":96,"deaths":11.5},{"country":"Bulgaria","continent":"Europe","day":98,"deaths":13},{"country":"Bulgaria","continent":"Europe","day":100,"deaths":15},{"country":"Bulgaria","continent":"Europe","day":102,"deaths":18},{"country":"Bulgaria","continent":"Europe","day":104,"deaths":21},{"country":"Bulgaria","continent":"Europe","day":107,"deaths":26},{"country":"Bulgaria","continent":"Europe","day":109,"deaths":31},{"country":"Bulgaria","continent":"Europe","day":110,"deaths":35},{"country":"Bulgaria","continent":"Europe","day":112,"deaths":46},
{"country":"Croatia","continent":"Europe","day":0,"deaths":6},{"country":"Croatia","continent":"Europe","day":2,"deaths":9},{"country":"Croatia","continent":"Europe","day":4,"deaths":13},{"country":"Croatia","continent":"Europe","day":6,"deaths":17},{"country":"Croatia","continent":"Europe","day":8,"deaths":19},{"country":"Croatia","continent":"Europe","day":10,"deaths":19.5},{"country":"Croatia","continent":"Europe","day":12,"deaths":21},{"country":"Croatia","continent":"Europe","day":14,"deaths":22},{"country":"Croatia","continent":"Europe","day":16,"deaths":25},{"country":"Croatia","continent":"Europe","day":19,"deaths":28},
{"country":"Slovakia","continent":"Europe","day":0,"deaths":5.5},{"country":"Slovakia","continent":"Europe","day":2,"deaths":5.8},{"country":"Slovakia","continent":"Europe","day":4,"deaths":6.2},{"country":"Slovakia","continent":"Europe","day":6,"deaths":5.8},{"country":"Slovakia","continent":"Europe","day":8,"deaths":6},{"country":"Slovakia","continent":"Europe","day":10,"deaths":6.3},{"country":"Slovakia","continent":"Europe","day":12,"deaths":8},{"country":"Slovakia","continent":"Europe","day":13,"deaths":10.8},{"country":"Slovakia","continent":"Europe","day":15,"deaths":13},{"country":"Slovakia","continent":"Europe","day":16,"deaths":15.3}
]
},
"layer": [
{
  "data": {"name": "grey"},
  "mark": {"type": "line", "color": "#e2e2e2", "strokeWidth": 0.9, "clip": true},
  "encoding": {
    "x": {"field": "day", "type": "quantitative", "scale": {"domain": [0, 261], "nice": false, "zero": false},
      "axis": {"values": [0,50,100,150,200,250], "title": "Days since 5 daily new deaths first reported", "titleX": 309, "titleY": 39, "titleBaseline": "middle", "titleAlign": "center", "titleFontSize": 14, "titleFontWeight": "normal", "titleColor": "#222", "labelFontSize": 16, "labelColor": "#666", "labelPadding": 7, "ticks": false, "domain": false, "grid": true, "gridColor": "#ddd", "gridDash": [3,3]}},
    "y": {"field": "deaths", "type": "quantitative", "scale": {"type": "log", "domain": [0.143, 2810], "nice": false},
      "axis": {"values": [1,10,100,1000], "format": ",", "title": "Daily new confirmed COVID-19 deaths", "titleX": -67, "titleY": 243, "titleAngle": -90, "titleBaseline": "middle", "titleAlign": "center", "titleFontSize": 14, "titleFontWeight": "normal", "titleColor": "#222", "labelFontSize": 16, "labelColor": "#666", "labelPadding": 6, "ticks": false, "domain": true, "domainColor": "#ccc", "grid": true, "gridColor": "#ddd", "gridDash": [3,3]}},
    "detail": {"field": "country"}
  }
},
{
  "data": {"name": "hl"},
  "mark": {"type": "line", "strokeWidth": 1.7, "clip": true},
  "encoding": {
    "x": {"field": "day", "type": "quantitative",
      "axis": {"orient": "top", "title": "Source: European CDC – Situation Update Worldwide – Last updated 7 November, 10:06 (London time), Our World In Data", "titleX": -75, "titleY": 516, "titleAlign": "left", "titleBaseline": "middle", "titleAngle": 0, "titleFontSize": 14, "titleFontWeight": "normal", "titleColor": "#777", "labels": false, "ticks": false, "domain": false, "grid": false}},
    "y": {"field": "deaths", "type": "quantitative",
      "axis": {"orient": "right", "title": "CC BY", "titleX": 85, "titleY": 516, "titleAlign": "left", "titleBaseline": "middle", "titleAngle": 0, "titleFontSize": 13, "titleFontWeight": "normal", "titleColor": "#777", "labels": false, "ticks": false, "domain": false, "grid": false}},
    "color": {"field": "continent", "type": "nominal",
      "scale": {"domain": ["Africa","Asia","Europe","North America","Oceania","South America"], "range": ["#c8c8c8","#c8c8c8","#33446a","#d9434f","#c8c8c8","#c8c8c8"]},
      "legend": {"orient": "none", "legendX": 703, "legendY": -3, "title": "Continent", "titleFontSize": 14.5, "titleFontWeight": "bold", "titleColor": "#111", "titlePadding": 8, "labelFontSize": 14, "labelColor": "#333", "symbolType": "square", "symbolSize": 64, "symbolStrokeWidth": 0, "rowPadding": 4.5, "labelOffset": 4,
        "encode": {"labels": {"update": {"fill": {"signal": "indexof(['Europe','North America'], datum.label) >= 0 ? '#333' : '#c5c5c5'"}}}, "symbols": {"update": {"fill": {"scale": "color", "field": "value"}, "opacity": {"value": 1}}}}}},
    "detail": {"field": "country"}
  }
},
{
  "data": {"name": "hl"},
  "transform": [{"joinaggregate": [{"op": "max", "field": "day", "as": "last"}], "groupby": ["country"]}, {"filter": "datum.day == datum.last && datum.country == 'United States'"}],
  "layer": [
    {"mark": {"type": "text", "align": "right", "baseline": "middle", "dx": 10, "dy": -8, "fontSize": 13, "fontWeight": "bold", "color": "#d9434f"},
     "encoding": {"x": {"field": "day", "type": "quantitative", "axis": null}, "y": {"field": "deaths", "type": "quantitative", "axis": null}, "text": {"field": "country"}}},
    {"mark": {"type": "point", "shape": "triangle-right", "filled": true, "angle": 345, "color": "#d9434f", "opacity": 1},
     "encoding": {"x": {"field": "day", "type": "quantitative", "axis": null}, "y": {"field": "deaths", "type": "quantitative", "axis": null},
       "size": {"field": "country", "type": "ordinal", "scale": {"range": [22, 22]},
         "legend": {"orient": "none", "legendX": 704, "legendY": 146, "values": ["United States"], "padding": 0,
           "title": ["Jan\u00a0\u00a0\u00a0\u00a0\u00a0\u00a0\u00a0\u00a0\u00a0\u00a0\u00a0\u00a0\u00a0\u00a0Nov", "25,\u00a0\u00a0\u00a0\u2022-\u2022-\u2022-\u2192\u00a07,", "2020\u00a0\u00a0\u00a0\u00a0\u00a0\u00a0\u00a0\u00a0\u00a0\u00a0\u00a0\u00a02020"],
           "titleFont": "Liberation Sans", "titleFontSize": 13, "titleFontWeight": "normal", "titleColor": "#555", "titleLineHeight": 13.5, "titlePadding": 0,
           "labelFontSize": 1, "labelOpacity": 0, "symbolOpacity": 0, "symbolSize": 1, "labelOffset": 0}}}}
  ]
},
{
  "data": {"name": "hl"},
  "transform": [{"joinaggregate": [{"op": "max", "field": "day", "as": "last"}], "groupby": ["country"]}, {"filter": "datum.day == datum.last && datum.continent == 'Europe'"}],
  "layer": [
    {"transform": [{"filter": "datum.country != 'Czech Republic'"}],
     "mark": {"type": "text", "align": "left", "baseline": "middle", "dx": 5, "dy": -8, "fontSize": 13, "fontWeight": "bold", "color": "#3f4f70"},
     "encoding": {"x": {"field": "day", "type": "quantitative", "axis": null}, "y": {"field": "deaths", "type": "quantitative", "axis": null}, "text": {"field": "country"}}},
    {"transform": [{"filter": "datum.country == 'Czech Republic'"}],
     "mark": {"type": "text", "align": "left", "baseline": "middle", "dx": 8, "dy": 5, "fontSize": 13, "fontWeight": "bold", "color": "#3f4f70"},
     "encoding": {"x": {"field": "day", "type": "quantitative", "axis": null}, "y": {"field": "deaths", "type": "quantitative", "axis": null}, "text": {"field": "country"}}},
    {"mark": {"type": "point", "filled": true, "size": 22, "angle": 305, "color": "#33446a", "opacity": 1},
     "encoding": {"x": {"field": "day", "type": "quantitative", "axis": null}, "y": {"field": "deaths", "type": "quantitative", "axis": null},
       "shape": {"field": "country", "type": "nominal", "scale": {"range": ["triangle-right"]},
         "legend": {"orient": "none", "legendX": 741, "legendY": -82, "values": ["Poland"], "fillColor": "#0f2b52", "padding": 7, "cornerRadius": 0,
           "title": ["Our World", "in Data"], "titleColor": "#ffffff", "titleFont": "Liberation Sans", "titleFontSize": 11.5, "titleFontWeight": "normal", "titleLineHeight": 13, "titleAnchor": "middle", "titleAlign": "center", "titlePadding": 0,
           "labelFontSize": 1, "labelOpacity": 0, "symbolOpacity": 0, "symbolSize": 1, "labelOffset": 0}}}}
  ]
}
],
"resolve": {"axis": {"x": "independent", "y": "independent"}}
}
